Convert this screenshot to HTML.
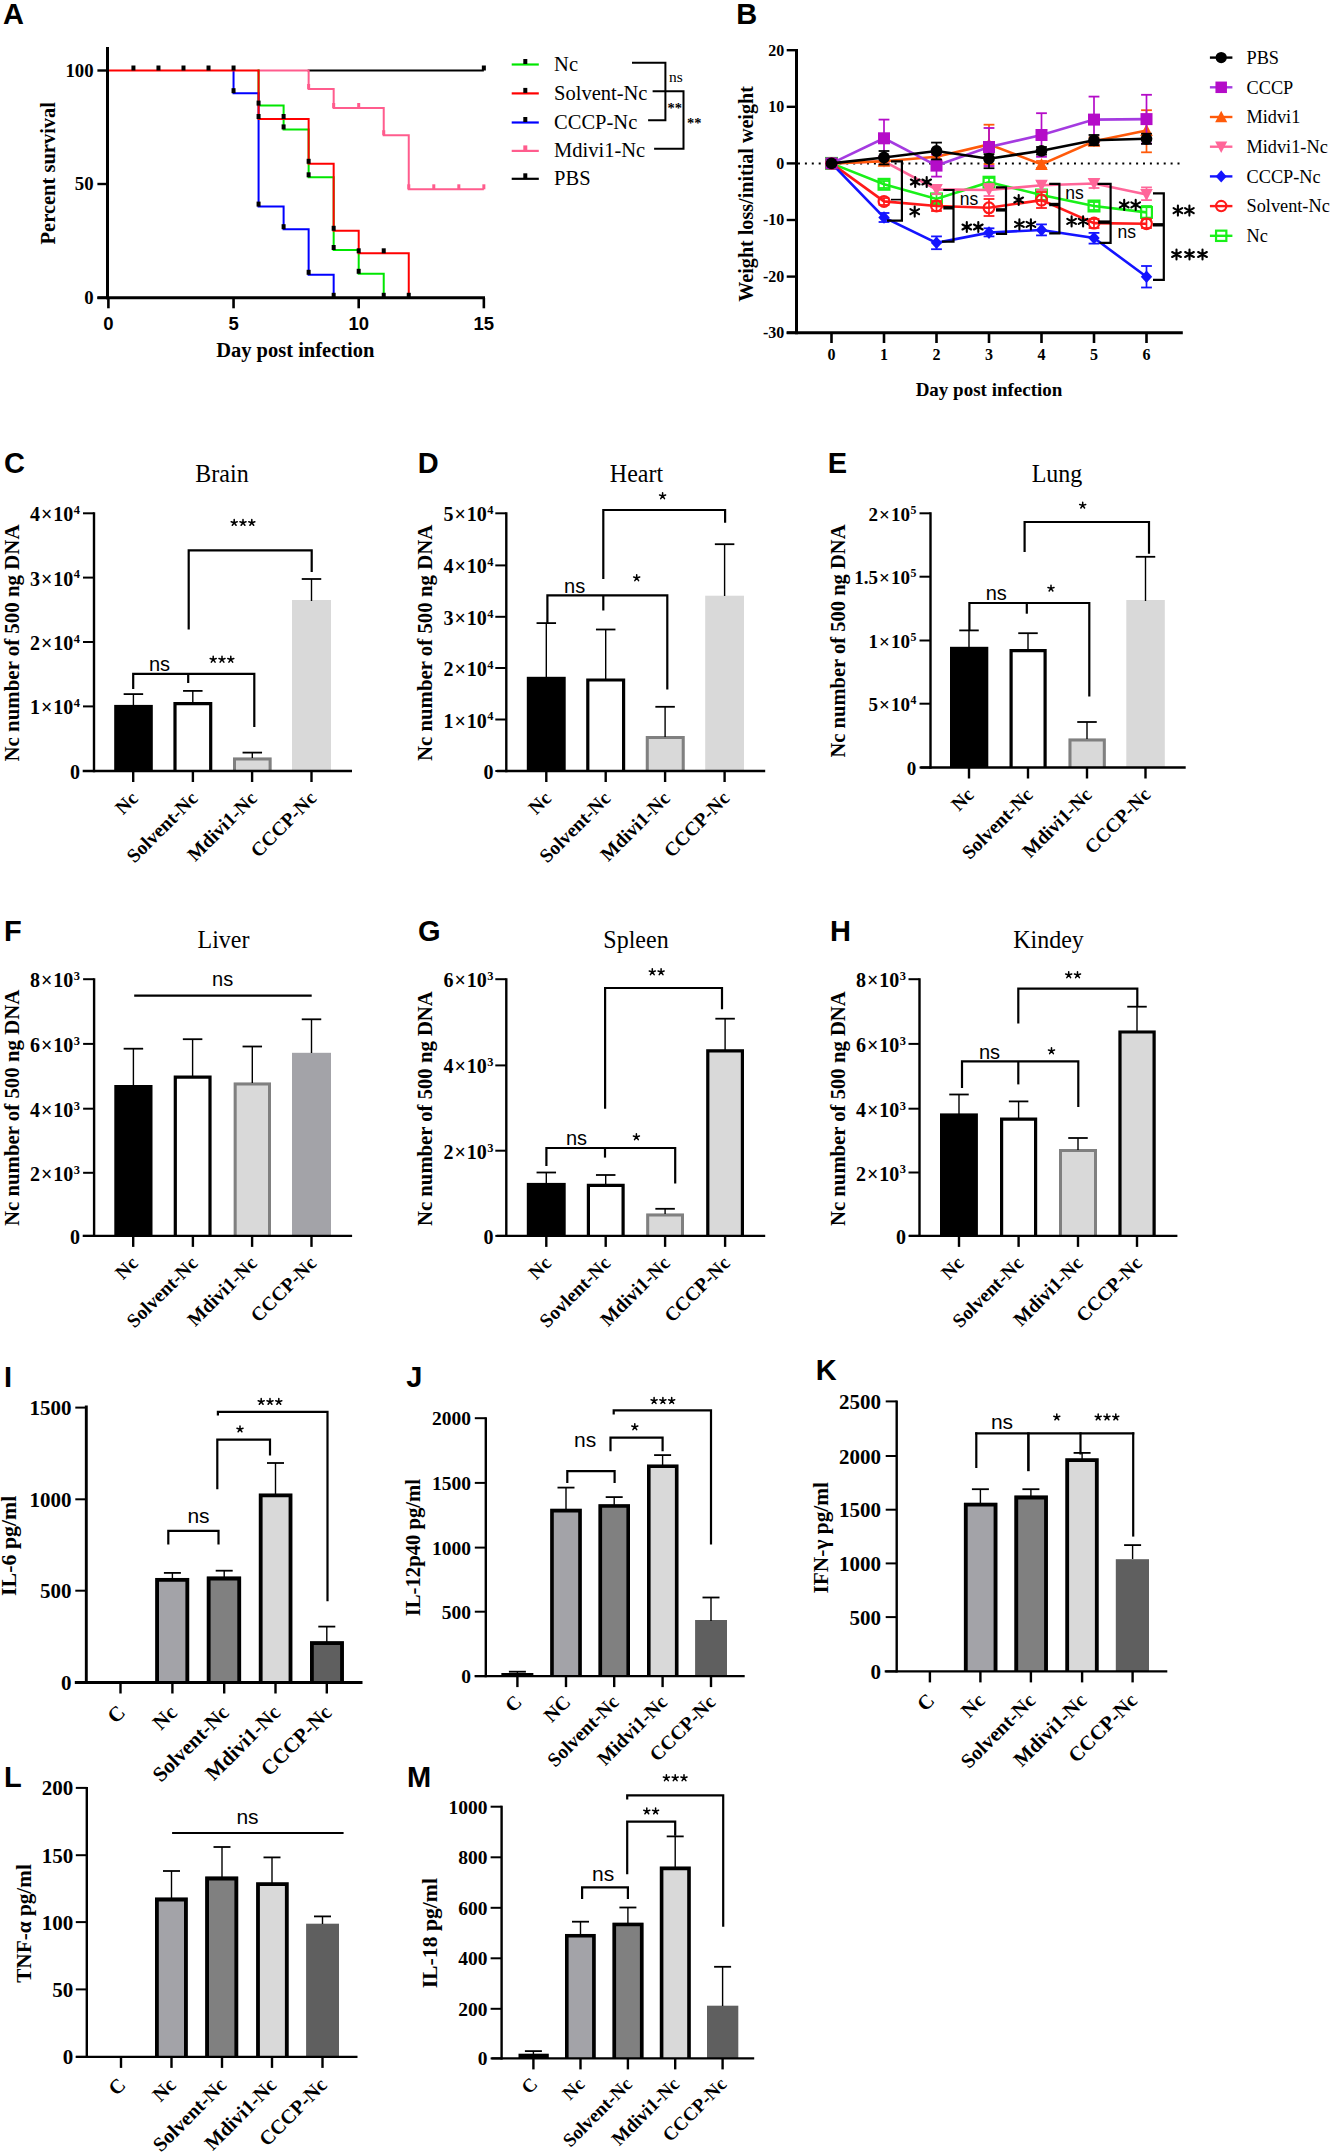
<!DOCTYPE html><html><head><meta charset="utf-8"><style>html,body{margin:0;padding:0;background:#fff;}svg{display:block;}</style></head><body>
<svg width="1330" height="2154" viewBox="0 0 1330 2154">
<rect width="1330" height="2154" fill="#fff"/>
<text x="3.1" y="23.6" font-family='"Liberation Sans", sans-serif' font-size="29" font-weight="bold" text-anchor="start" fill="#000">A</text>
<polyline points="307.64,70.5 483.85,70.5" fill="none" stroke="#000" stroke-width="2" stroke-linejoin="miter" stroke-linecap="butt"/>
<polyline points="257.58,70.5 308.64,70.5 308.64,89 333.67,89 333.67,108 383.73,108 383.73,135.2 408.76,135.2 408.76,189.3 483.85,189.3" fill="none" stroke="#ff5c8d" stroke-width="2" stroke-linejoin="miter" stroke-linecap="butt"/>
<polyline points="257.58,70.5 258.58,70.5 258.58,105.6 283.61,105.6 283.61,129.4 308.64,129.4 308.64,177.3 333.67,177.3 333.67,250 358.7,250 358.7,273.8 383.73,273.8 383.73,297.8" fill="none" stroke="#00e600" stroke-width="2" stroke-linejoin="miter" stroke-linecap="butt"/>
<polyline points="232.55,70.5 233.55,70.5 233.55,93.2 258.58,93.2 258.58,206.6 283.61,206.6 283.61,229.2 308.64,229.2 308.64,274.8 333.67,274.8 333.67,297.8" fill="none" stroke="#0000ff" stroke-width="2" stroke-linejoin="miter" stroke-linecap="butt"/>
<polyline points="108.4,70.5 258.58,70.5 258.58,119 308.64,119 308.64,163.8 333.67,163.8 333.67,230.8 358.7,230.8 358.7,253.3 408.76,253.3 408.76,297.8" fill="none" stroke="#ff0000" stroke-width="2" stroke-linejoin="miter" stroke-linecap="butt"/>
<rect x="131.43" y="65.5" width="4" height="5" fill="#000"/>
<rect x="156.46" y="65.5" width="4" height="5" fill="#000"/>
<rect x="181.49" y="65.5" width="4" height="5" fill="#000"/>
<rect x="206.52" y="65.5" width="4" height="5" fill="#000"/>
<rect x="231.55" y="65.5" width="4" height="5" fill="#000"/>
<rect x="231.55" y="88.2" width="4" height="5" fill="#000"/>
<rect x="256.58" y="100.6" width="4" height="5" fill="#000"/>
<rect x="256.58" y="114" width="4" height="5" fill="#000"/>
<rect x="281.61" y="114" width="4" height="5" fill="#000"/>
<rect x="281.61" y="124.4" width="4" height="5" fill="#000"/>
<rect x="256.58" y="201.6" width="4" height="5" fill="#000"/>
<rect x="281.61" y="224.2" width="4" height="5" fill="#000"/>
<rect x="306.64" y="158.8" width="4" height="5" fill="#000"/>
<rect x="306.64" y="172.3" width="4" height="5" fill="#000"/>
<rect x="306.64" y="269.8" width="4" height="5" fill="#000"/>
<rect x="331.67" y="225.8" width="4" height="5" fill="#000"/>
<rect x="331.67" y="245" width="4" height="5" fill="#000"/>
<rect x="331.67" y="292.8" width="4" height="5" fill="#000"/>
<rect x="356.7" y="248.3" width="4" height="5" fill="#000"/>
<rect x="356.7" y="268.8" width="4" height="5" fill="#000"/>
<rect x="381.73" y="248.3" width="4" height="5" fill="#000"/>
<rect x="381.73" y="292.8" width="4" height="5" fill="#000"/>
<rect x="406.76" y="292.8" width="4" height="5" fill="#000"/>
<rect x="481.85" y="65.5" width="4" height="5" fill="#000"/>
<rect x="307.14" y="84" width="3" height="5" fill="#ff5c8d"/>
<rect x="332.17" y="103" width="3" height="5" fill="#ff5c8d"/>
<rect x="357.2" y="103" width="3" height="5" fill="#ff5c8d"/>
<rect x="382.23" y="130.2" width="3" height="5" fill="#ff5c8d"/>
<rect x="407.26" y="184.3" width="3" height="5" fill="#ff5c8d"/>
<rect x="432.29" y="184.3" width="3" height="5" fill="#ff5c8d"/>
<rect x="457.32" y="184.3" width="3" height="5" fill="#ff5c8d"/>
<rect x="482.35" y="184.3" width="3" height="5" fill="#ff5c8d"/>
<line x1="107.5" y1="47" x2="107.5" y2="299.3" stroke="#000" stroke-width="3"/>
<line x1="97.4" y1="297.8" x2="485" y2="297.8" stroke="#000" stroke-width="3"/>
<line x1="97.4" y1="70.5" x2="107.5" y2="70.5" stroke="#000" stroke-width="2.4"/>
<line x1="97.4" y1="184" x2="107.5" y2="184" stroke="#000" stroke-width="2.4"/>
<line x1="97.4" y1="297.8" x2="107.5" y2="297.8" stroke="#000" stroke-width="2.4"/>
<line x1="108.4" y1="297.8" x2="108.4" y2="308.3" stroke="#000" stroke-width="2.6"/>
<text x="108.4" y="329.8" font-family='"Liberation Sans", sans-serif' font-size="18.5" font-weight="bold" text-anchor="middle" fill="#000">0</text>
<line x1="233.55" y1="297.8" x2="233.55" y2="308.3" stroke="#000" stroke-width="2.6"/>
<text x="233.55" y="329.8" font-family='"Liberation Sans", sans-serif' font-size="18.5" font-weight="bold" text-anchor="middle" fill="#000">5</text>
<line x1="358.7" y1="297.8" x2="358.7" y2="308.3" stroke="#000" stroke-width="2.6"/>
<text x="358.7" y="329.8" font-family='"Liberation Sans", sans-serif' font-size="18.5" font-weight="bold" text-anchor="middle" fill="#000">10</text>
<line x1="483.85" y1="297.8" x2="483.85" y2="308.3" stroke="#000" stroke-width="2.6"/>
<text x="483.85" y="329.8" font-family='"Liberation Sans", sans-serif' font-size="18.5" font-weight="bold" text-anchor="middle" fill="#000">15</text>
<text x="93.6" y="76.9" font-family='"Liberation Serif", serif' font-size="18.8" font-weight="bold" text-anchor="end" fill="#000">100</text>
<text x="93.6" y="190.4" font-family='"Liberation Serif", serif' font-size="18.8" font-weight="bold" text-anchor="end" fill="#000">50</text>
<text x="93.6" y="304.2" font-family='"Liberation Serif", serif' font-size="18.8" font-weight="bold" text-anchor="end" fill="#000">0</text>
<text x="295.3" y="356.8" font-family='"Liberation Serif", serif' font-size="20.5" font-weight="bold" text-anchor="middle" fill="#000">Day post infection</text>
<text transform="translate(54.8,173.2) rotate(-90)" x="0" y="0" font-family='"Liberation Serif", serif' font-size="20.5" font-weight="bold" text-anchor="middle">Percent survival</text>
<line x1="511.7" y1="64.5" x2="538.8" y2="64.5" stroke="#00e600" stroke-width="2.2"/>
<rect x="523.3" y="59" width="4" height="5" fill="#000"/>
<text x="554.1" y="70.8" font-family='"Liberation Serif", serif' font-size="20.5" font-weight="normal" text-anchor="start" fill="#000">Nc</text>
<line x1="511.7" y1="93.4" x2="538.8" y2="93.4" stroke="#ff0000" stroke-width="2.2"/>
<rect x="523.3" y="87.9" width="4" height="5" fill="#000"/>
<text x="554.1" y="99.7" font-family='"Liberation Serif", serif' font-size="20.5" font-weight="normal" text-anchor="start" fill="#000">Solvent-Nc</text>
<line x1="511.7" y1="122.5" x2="538.8" y2="122.5" stroke="#0000ff" stroke-width="2.2"/>
<rect x="523.3" y="117" width="4" height="5" fill="#000"/>
<text x="554.1" y="128.8" font-family='"Liberation Serif", serif' font-size="20.5" font-weight="normal" text-anchor="start" fill="#000">CCCP-Nc</text>
<line x1="511.7" y1="150.9" x2="538.8" y2="150.9" stroke="#ff5c8d" stroke-width="2.2"/>
<rect x="523.3" y="145.4" width="4" height="5" fill="#ff5c8d"/>
<text x="554.1" y="157.2" font-family='"Liberation Serif", serif' font-size="20.5" font-weight="normal" text-anchor="start" fill="#000">Mdivi1-Nc</text>
<line x1="511.7" y1="178.8" x2="538.8" y2="178.8" stroke="#000" stroke-width="2.2"/>
<rect x="523.3" y="173.3" width="4" height="5" fill="#000"/>
<text x="554.1" y="185.1" font-family='"Liberation Serif", serif' font-size="20.5" font-weight="normal" text-anchor="start" fill="#000">PBS</text>
<polyline points="632,62.7 665.4,62.7 665.4,120.2 648.1,120.2" fill="none" stroke="#000" stroke-width="2" stroke-linejoin="miter" stroke-linecap="butt"/>
<polyline points="652.6,91.3 683.5,91.3 683.5,148.8 654.1,148.8" fill="none" stroke="#000" stroke-width="2" stroke-linejoin="miter" stroke-linecap="butt"/>
<text x="669" y="81.5" font-family='"Liberation Serif", serif' font-size="15.5" font-weight="normal" text-anchor="start" fill="#000">ns</text>
<text x="667.5" y="112.5" font-family='"Liberation Serif", serif' font-size="14.5" font-weight="bold" text-anchor="start" fill="#000">**</text>
<text x="687" y="127.5" font-family='"Liberation Serif", serif' font-size="14.5" font-weight="bold" text-anchor="start" fill="#000">**</text>
<text x="736.2" y="23.6" font-family='"Liberation Sans", sans-serif' font-size="29" font-weight="bold" text-anchor="start" fill="#000">B</text>
<line x1="798" y1="163.4" x2="1182" y2="163.4" stroke="#000" stroke-width="2" stroke-dasharray="2 4.9"/>
<line x1="884" y1="181" x2="884" y2="188" stroke="#19f019" stroke-width="1.7"/>
<line x1="878.6" y1="181" x2="889.4" y2="181" stroke="#19f019" stroke-width="1.8"/>
<line x1="878.6" y1="188" x2="889.4" y2="188" stroke="#19f019" stroke-width="1.8"/>
<line x1="936.5" y1="194" x2="936.5" y2="203" stroke="#19f019" stroke-width="1.7"/>
<line x1="931.1" y1="194" x2="941.9" y2="194" stroke="#19f019" stroke-width="1.8"/>
<line x1="931.1" y1="203" x2="941.9" y2="203" stroke="#19f019" stroke-width="1.8"/>
<line x1="989" y1="178" x2="989" y2="186" stroke="#19f019" stroke-width="1.7"/>
<line x1="983.6" y1="178" x2="994.4" y2="178" stroke="#19f019" stroke-width="1.8"/>
<line x1="983.6" y1="186" x2="994.4" y2="186" stroke="#19f019" stroke-width="1.8"/>
<line x1="1041.5" y1="190" x2="1041.5" y2="200" stroke="#19f019" stroke-width="1.7"/>
<line x1="1036.1" y1="190" x2="1046.9" y2="190" stroke="#19f019" stroke-width="1.8"/>
<line x1="1036.1" y1="200" x2="1046.9" y2="200" stroke="#19f019" stroke-width="1.8"/>
<line x1="1094" y1="202" x2="1094" y2="210" stroke="#19f019" stroke-width="1.7"/>
<line x1="1088.6" y1="202" x2="1099.4" y2="202" stroke="#19f019" stroke-width="1.8"/>
<line x1="1088.6" y1="210" x2="1099.4" y2="210" stroke="#19f019" stroke-width="1.8"/>
<line x1="1146.5" y1="206" x2="1146.5" y2="218" stroke="#19f019" stroke-width="1.7"/>
<line x1="1141.1" y1="206" x2="1151.9" y2="206" stroke="#19f019" stroke-width="1.8"/>
<line x1="1141.1" y1="218" x2="1151.9" y2="218" stroke="#19f019" stroke-width="1.8"/>
<polyline points="831.5,163.4 884,184.3 936.5,198.9 989,182.2 1041.5,195 1094,206 1146.5,212.4" fill="none" stroke="#19f019" stroke-width="2.6" stroke-linejoin="miter" stroke-linecap="butt"/>
<rect x="826.1" y="158" width="10.8" height="10.8" fill="none" stroke="#19f019" stroke-width="2.2"/>
<rect x="878.6" y="178.9" width="10.8" height="10.8" fill="none" stroke="#19f019" stroke-width="2.2"/>
<rect x="931.1" y="193.5" width="10.8" height="10.8" fill="none" stroke="#19f019" stroke-width="2.2"/>
<rect x="983.6" y="176.8" width="10.8" height="10.8" fill="none" stroke="#19f019" stroke-width="2.2"/>
<rect x="1036.1" y="189.6" width="10.8" height="10.8" fill="none" stroke="#19f019" stroke-width="2.2"/>
<rect x="1088.6" y="200.6" width="10.8" height="10.8" fill="none" stroke="#19f019" stroke-width="2.2"/>
<rect x="1141.1" y="207" width="10.8" height="10.8" fill="none" stroke="#19f019" stroke-width="2.2"/>
<line x1="884" y1="198" x2="884" y2="205" stroke="#ff1a1a" stroke-width="1.7"/>
<line x1="878.6" y1="198" x2="889.4" y2="198" stroke="#ff1a1a" stroke-width="1.8"/>
<line x1="878.6" y1="205" x2="889.4" y2="205" stroke="#ff1a1a" stroke-width="1.8"/>
<line x1="936.5" y1="201" x2="936.5" y2="211" stroke="#ff1a1a" stroke-width="1.7"/>
<line x1="931.1" y1="201" x2="941.9" y2="201" stroke="#ff1a1a" stroke-width="1.8"/>
<line x1="931.1" y1="211" x2="941.9" y2="211" stroke="#ff1a1a" stroke-width="1.8"/>
<line x1="989" y1="199" x2="989" y2="216" stroke="#ff1a1a" stroke-width="1.7"/>
<line x1="983.6" y1="199" x2="994.4" y2="199" stroke="#ff1a1a" stroke-width="1.8"/>
<line x1="983.6" y1="216" x2="994.4" y2="216" stroke="#ff1a1a" stroke-width="1.8"/>
<line x1="1041.5" y1="192" x2="1041.5" y2="208" stroke="#ff1a1a" stroke-width="1.7"/>
<line x1="1036.1" y1="192" x2="1046.9" y2="192" stroke="#ff1a1a" stroke-width="1.8"/>
<line x1="1036.1" y1="208" x2="1046.9" y2="208" stroke="#ff1a1a" stroke-width="1.8"/>
<line x1="1094" y1="219" x2="1094" y2="228" stroke="#ff1a1a" stroke-width="1.7"/>
<line x1="1088.6" y1="219" x2="1099.4" y2="219" stroke="#ff1a1a" stroke-width="1.8"/>
<line x1="1088.6" y1="228" x2="1099.4" y2="228" stroke="#ff1a1a" stroke-width="1.8"/>
<line x1="1146.5" y1="219" x2="1146.5" y2="228" stroke="#ff1a1a" stroke-width="1.7"/>
<line x1="1141.1" y1="219" x2="1151.9" y2="219" stroke="#ff1a1a" stroke-width="1.8"/>
<line x1="1141.1" y1="228" x2="1151.9" y2="228" stroke="#ff1a1a" stroke-width="1.8"/>
<polyline points="831.5,163.4 884,201.4 936.5,206 989,207.8 1041.5,200.1 1094,223.1 1146.5,223.7" fill="none" stroke="#ff1a1a" stroke-width="2.6" stroke-linejoin="miter" stroke-linecap="butt"/>
<circle cx="831.5" cy="163.4" r="5.4" fill="none" stroke="#ff1a1a" stroke-width="2.2"/>
<circle cx="884" cy="201.4" r="5.4" fill="none" stroke="#ff1a1a" stroke-width="2.2"/>
<circle cx="936.5" cy="206" r="5.4" fill="none" stroke="#ff1a1a" stroke-width="2.2"/>
<circle cx="989" cy="207.8" r="5.4" fill="none" stroke="#ff1a1a" stroke-width="2.2"/>
<circle cx="1041.5" cy="200.1" r="5.4" fill="none" stroke="#ff1a1a" stroke-width="2.2"/>
<circle cx="1094" cy="223.1" r="5.4" fill="none" stroke="#ff1a1a" stroke-width="2.2"/>
<circle cx="1146.5" cy="223.7" r="5.4" fill="none" stroke="#ff1a1a" stroke-width="2.2"/>
<line x1="884" y1="213" x2="884" y2="222" stroke="#1414ff" stroke-width="1.7"/>
<line x1="878.6" y1="213" x2="889.4" y2="213" stroke="#1414ff" stroke-width="1.8"/>
<line x1="878.6" y1="222" x2="889.4" y2="222" stroke="#1414ff" stroke-width="1.8"/>
<line x1="936.5" y1="236.4" x2="936.5" y2="249.2" stroke="#1414ff" stroke-width="1.7"/>
<line x1="931.1" y1="236.4" x2="941.9" y2="236.4" stroke="#1414ff" stroke-width="1.8"/>
<line x1="931.1" y1="249.2" x2="941.9" y2="249.2" stroke="#1414ff" stroke-width="1.8"/>
<line x1="989" y1="228.3" x2="989" y2="236.4" stroke="#1414ff" stroke-width="1.7"/>
<line x1="983.6" y1="228.3" x2="994.4" y2="228.3" stroke="#1414ff" stroke-width="1.8"/>
<line x1="983.6" y1="236.4" x2="994.4" y2="236.4" stroke="#1414ff" stroke-width="1.8"/>
<line x1="1041.5" y1="224.4" x2="1041.5" y2="235.4" stroke="#1414ff" stroke-width="1.7"/>
<line x1="1036.1" y1="224.4" x2="1046.9" y2="224.4" stroke="#1414ff" stroke-width="1.8"/>
<line x1="1036.1" y1="235.4" x2="1046.9" y2="235.4" stroke="#1414ff" stroke-width="1.8"/>
<line x1="1094" y1="232.9" x2="1094" y2="243.6" stroke="#1414ff" stroke-width="1.7"/>
<line x1="1088.6" y1="232.9" x2="1099.4" y2="232.9" stroke="#1414ff" stroke-width="1.8"/>
<line x1="1088.6" y1="243.6" x2="1099.4" y2="243.6" stroke="#1414ff" stroke-width="1.8"/>
<line x1="1146.5" y1="266" x2="1146.5" y2="287.5" stroke="#1414ff" stroke-width="1.7"/>
<line x1="1141.1" y1="266" x2="1151.9" y2="266" stroke="#1414ff" stroke-width="1.8"/>
<line x1="1141.1" y1="287.5" x2="1151.9" y2="287.5" stroke="#1414ff" stroke-width="1.8"/>
<polyline points="831.5,163.4 884,217.5 936.5,242.8 989,232.6 1041.5,230 1094,238 1146.5,276.8" fill="none" stroke="#1414ff" stroke-width="2.6" stroke-linejoin="miter" stroke-linecap="butt"/>
<path d="M831.5 157.1L837.2 163.4L831.5 169.7L825.8 163.4Z" fill="#1414ff"/>
<path d="M884 211.2L889.7 217.5L884 223.8L878.3 217.5Z" fill="#1414ff"/>
<path d="M936.5 236.5L942.2 242.8L936.5 249.1L930.8 242.8Z" fill="#1414ff"/>
<path d="M989 226.3L994.7 232.6L989 238.9L983.3 232.6Z" fill="#1414ff"/>
<path d="M1041.5 223.7L1047.2 230L1041.5 236.3L1035.8 230Z" fill="#1414ff"/>
<path d="M1094 231.7L1099.7 238L1094 244.3L1088.3 238Z" fill="#1414ff"/>
<path d="M1146.5 270.5L1152.2 276.8L1146.5 283.1L1140.8 276.8Z" fill="#1414ff"/>
<line x1="884" y1="158" x2="884" y2="165" stroke="#ff6699" stroke-width="1.7"/>
<line x1="878.6" y1="158" x2="889.4" y2="158" stroke="#ff6699" stroke-width="1.8"/>
<line x1="878.6" y1="165" x2="889.4" y2="165" stroke="#ff6699" stroke-width="1.8"/>
<line x1="936.5" y1="185" x2="936.5" y2="194" stroke="#ff6699" stroke-width="1.7"/>
<line x1="931.1" y1="185" x2="941.9" y2="185" stroke="#ff6699" stroke-width="1.8"/>
<line x1="931.1" y1="194" x2="941.9" y2="194" stroke="#ff6699" stroke-width="1.8"/>
<line x1="989" y1="184" x2="989" y2="196" stroke="#ff6699" stroke-width="1.7"/>
<line x1="983.6" y1="184" x2="994.4" y2="184" stroke="#ff6699" stroke-width="1.8"/>
<line x1="983.6" y1="196" x2="994.4" y2="196" stroke="#ff6699" stroke-width="1.8"/>
<line x1="1041.5" y1="181" x2="1041.5" y2="190" stroke="#ff6699" stroke-width="1.7"/>
<line x1="1036.1" y1="181" x2="1046.9" y2="181" stroke="#ff6699" stroke-width="1.8"/>
<line x1="1036.1" y1="190" x2="1046.9" y2="190" stroke="#ff6699" stroke-width="1.8"/>
<line x1="1094" y1="179" x2="1094" y2="188" stroke="#ff6699" stroke-width="1.7"/>
<line x1="1088.6" y1="179" x2="1099.4" y2="179" stroke="#ff6699" stroke-width="1.8"/>
<line x1="1088.6" y1="188" x2="1099.4" y2="188" stroke="#ff6699" stroke-width="1.8"/>
<line x1="1146.5" y1="187.4" x2="1146.5" y2="200.1" stroke="#ff6699" stroke-width="1.7"/>
<line x1="1141.1" y1="187.4" x2="1151.9" y2="187.4" stroke="#ff6699" stroke-width="1.8"/>
<line x1="1141.1" y1="200.1" x2="1151.9" y2="200.1" stroke="#ff6699" stroke-width="1.8"/>
<polyline points="831.5,163.4 884,161.3 936.5,189.4 989,190 1041.5,185.3 1094,183.5 1146.5,194.5" fill="none" stroke="#ff6699" stroke-width="2.6" stroke-linejoin="miter" stroke-linecap="butt"/>
<path d="M831.5 169.9L837.8 157.9L825.2 157.9Z" fill="#ff6699"/>
<path d="M884 167.8L890.3 155.8L877.7 155.8Z" fill="#ff6699"/>
<path d="M936.5 195.9L942.8 183.9L930.2 183.9Z" fill="#ff6699"/>
<path d="M989 196.5L995.3 184.5L982.7 184.5Z" fill="#ff6699"/>
<path d="M1041.5 191.8L1047.8 179.8L1035.2 179.8Z" fill="#ff6699"/>
<path d="M1094 190L1100.3 178L1087.7 178Z" fill="#ff6699"/>
<path d="M1146.5 201L1152.8 189L1140.2 189Z" fill="#ff6699"/>
<line x1="884" y1="158" x2="884" y2="165" stroke="#ff5a0a" stroke-width="1.7"/>
<line x1="878.6" y1="158" x2="889.4" y2="158" stroke="#ff5a0a" stroke-width="1.8"/>
<line x1="878.6" y1="165" x2="889.4" y2="165" stroke="#ff5a0a" stroke-width="1.8"/>
<line x1="936.5" y1="153" x2="936.5" y2="160" stroke="#ff5a0a" stroke-width="1.7"/>
<line x1="931.1" y1="153" x2="941.9" y2="153" stroke="#ff5a0a" stroke-width="1.8"/>
<line x1="931.1" y1="160" x2="941.9" y2="160" stroke="#ff5a0a" stroke-width="1.8"/>
<line x1="989" y1="124.7" x2="989" y2="164" stroke="#ff5a0a" stroke-width="1.7"/>
<line x1="983.6" y1="124.7" x2="994.4" y2="124.7" stroke="#ff5a0a" stroke-width="1.8"/>
<line x1="983.6" y1="164" x2="994.4" y2="164" stroke="#ff5a0a" stroke-width="1.8"/>
<line x1="1041.5" y1="161" x2="1041.5" y2="168" stroke="#ff5a0a" stroke-width="1.7"/>
<line x1="1036.1" y1="161" x2="1046.9" y2="161" stroke="#ff5a0a" stroke-width="1.8"/>
<line x1="1036.1" y1="168" x2="1046.9" y2="168" stroke="#ff5a0a" stroke-width="1.8"/>
<line x1="1094" y1="137.5" x2="1094" y2="145" stroke="#ff5a0a" stroke-width="1.7"/>
<line x1="1088.6" y1="137.5" x2="1099.4" y2="137.5" stroke="#ff5a0a" stroke-width="1.8"/>
<line x1="1088.6" y1="145" x2="1099.4" y2="145" stroke="#ff5a0a" stroke-width="1.8"/>
<line x1="1146.5" y1="110.2" x2="1146.5" y2="152.3" stroke="#ff5a0a" stroke-width="1.7"/>
<line x1="1141.1" y1="110.2" x2="1151.9" y2="110.2" stroke="#ff5a0a" stroke-width="1.8"/>
<line x1="1141.1" y1="152.3" x2="1151.9" y2="152.3" stroke="#ff5a0a" stroke-width="1.8"/>
<polyline points="831.5,163.4 884,161.3 936.5,156.7 989,144.4 1041.5,164.4 1094,141.3 1146.5,130.6" fill="none" stroke="#ff5a0a" stroke-width="2.6" stroke-linejoin="miter" stroke-linecap="butt"/>
<path d="M831.5 156.9L837.8 168.9L825.2 168.9Z" fill="#ff5a0a"/>
<path d="M884 154.8L890.3 166.8L877.7 166.8Z" fill="#ff5a0a"/>
<path d="M936.5 150.2L942.8 162.2L930.2 162.2Z" fill="#ff5a0a"/>
<path d="M989 137.9L995.3 149.9L982.7 149.9Z" fill="#ff5a0a"/>
<path d="M1041.5 157.9L1047.8 169.9L1035.2 169.9Z" fill="#ff5a0a"/>
<path d="M1094 134.8L1100.3 146.8L1087.7 146.8Z" fill="#ff5a0a"/>
<path d="M1146.5 124.1L1152.8 136.1L1140.2 136.1Z" fill="#ff5a0a"/>
<line x1="884" y1="119.6" x2="884" y2="157" stroke="#b40cc8" stroke-width="1.7"/>
<line x1="878.6" y1="119.6" x2="889.4" y2="119.6" stroke="#b40cc8" stroke-width="1.8"/>
<line x1="878.6" y1="157" x2="889.4" y2="157" stroke="#b40cc8" stroke-width="1.8"/>
<line x1="936.5" y1="154.6" x2="936.5" y2="176.6" stroke="#b40cc8" stroke-width="1.7"/>
<line x1="931.1" y1="154.6" x2="941.9" y2="154.6" stroke="#b40cc8" stroke-width="1.8"/>
<line x1="931.1" y1="176.6" x2="941.9" y2="176.6" stroke="#b40cc8" stroke-width="1.8"/>
<line x1="989" y1="128" x2="989" y2="166" stroke="#b40cc8" stroke-width="1.7"/>
<line x1="983.6" y1="128" x2="994.4" y2="128" stroke="#b40cc8" stroke-width="1.8"/>
<line x1="983.6" y1="166" x2="994.4" y2="166" stroke="#b40cc8" stroke-width="1.8"/>
<line x1="1041.5" y1="113.2" x2="1041.5" y2="156.8" stroke="#b40cc8" stroke-width="1.7"/>
<line x1="1036.1" y1="113.2" x2="1046.9" y2="113.2" stroke="#b40cc8" stroke-width="1.8"/>
<line x1="1036.1" y1="156.8" x2="1046.9" y2="156.8" stroke="#b40cc8" stroke-width="1.8"/>
<line x1="1094" y1="96.6" x2="1094" y2="142.6" stroke="#b40cc8" stroke-width="1.7"/>
<line x1="1088.6" y1="96.6" x2="1099.4" y2="96.6" stroke="#b40cc8" stroke-width="1.8"/>
<line x1="1088.6" y1="142.6" x2="1099.4" y2="142.6" stroke="#b40cc8" stroke-width="1.8"/>
<line x1="1146.5" y1="94.8" x2="1146.5" y2="143.4" stroke="#b40cc8" stroke-width="1.7"/>
<line x1="1141.1" y1="94.8" x2="1151.9" y2="94.8" stroke="#b40cc8" stroke-width="1.8"/>
<line x1="1141.1" y1="143.4" x2="1151.9" y2="143.4" stroke="#b40cc8" stroke-width="1.8"/>
<polyline points="831.5,163.4 884,138.3 936.5,165.6 989,147 1041.5,135 1094,119.6 1146.5,119.1" fill="none" stroke="#a43be0" stroke-width="2.6" stroke-linejoin="miter" stroke-linecap="butt"/>
<rect x="825.5" y="157.4" width="12" height="12" fill="#b40cc8"/>
<rect x="878" y="132.3" width="12" height="12" fill="#b40cc8"/>
<rect x="930.5" y="159.6" width="12" height="12" fill="#b40cc8"/>
<rect x="983" y="141" width="12" height="12" fill="#b40cc8"/>
<rect x="1035.5" y="129" width="12" height="12" fill="#b40cc8"/>
<rect x="1088" y="113.6" width="12" height="12" fill="#b40cc8"/>
<rect x="1140.5" y="113.1" width="12" height="12" fill="#b40cc8"/>
<line x1="884" y1="151" x2="884" y2="164.4" stroke="#000" stroke-width="1.7"/>
<line x1="878.6" y1="151" x2="889.4" y2="151" stroke="#000" stroke-width="1.8"/>
<line x1="878.6" y1="164.4" x2="889.4" y2="164.4" stroke="#000" stroke-width="1.8"/>
<line x1="936.5" y1="142.6" x2="936.5" y2="159.4" stroke="#000" stroke-width="1.7"/>
<line x1="931.1" y1="142.6" x2="941.9" y2="142.6" stroke="#000" stroke-width="1.8"/>
<line x1="931.1" y1="159.4" x2="941.9" y2="159.4" stroke="#000" stroke-width="1.8"/>
<line x1="989" y1="154.1" x2="989" y2="168.2" stroke="#000" stroke-width="1.7"/>
<line x1="983.6" y1="154.1" x2="994.4" y2="154.1" stroke="#000" stroke-width="1.8"/>
<line x1="983.6" y1="168.2" x2="994.4" y2="168.2" stroke="#000" stroke-width="1.8"/>
<line x1="1041.5" y1="147" x2="1041.5" y2="154.6" stroke="#000" stroke-width="1.7"/>
<line x1="1036.1" y1="147" x2="1046.9" y2="147" stroke="#000" stroke-width="1.8"/>
<line x1="1036.1" y1="154.6" x2="1046.9" y2="154.6" stroke="#000" stroke-width="1.8"/>
<line x1="1094" y1="135" x2="1094" y2="145.2" stroke="#000" stroke-width="1.7"/>
<line x1="1088.6" y1="135" x2="1099.4" y2="135" stroke="#000" stroke-width="1.8"/>
<line x1="1088.6" y1="145.2" x2="1099.4" y2="145.2" stroke="#000" stroke-width="1.8"/>
<line x1="1146.5" y1="133.7" x2="1146.5" y2="143.9" stroke="#000" stroke-width="1.7"/>
<line x1="1141.1" y1="133.7" x2="1151.9" y2="133.7" stroke="#000" stroke-width="1.8"/>
<line x1="1141.1" y1="143.9" x2="1151.9" y2="143.9" stroke="#000" stroke-width="1.8"/>
<polyline points="831.5,163.4 884,157.5 936.5,151 989,158.7 1041.5,150.8 1094,140.3 1146.5,138.8" fill="none" stroke="#000" stroke-width="2.6" stroke-linejoin="miter" stroke-linecap="butt"/>
<circle cx="831.5" cy="163.4" r="5.88" fill="#000"/>
<circle cx="884" cy="157.5" r="5.88" fill="#000"/>
<circle cx="936.5" cy="151" r="5.88" fill="#000"/>
<circle cx="989" cy="158.7" r="5.88" fill="#000"/>
<circle cx="1041.5" cy="150.8" r="5.88" fill="#000"/>
<circle cx="1094" cy="140.3" r="5.88" fill="#000"/>
<circle cx="1146.5" cy="138.8" r="5.88" fill="#000"/>
<polyline points="891,161.3 901.9,161.3 901.9,220.6 887,220.6" fill="none" stroke="#000" stroke-width="2.2" stroke-linejoin="miter" stroke-linecap="butt"/>
<line x1="891" y1="199.6" x2="901.9" y2="199.6" stroke="#000" stroke-width="1.6"/>
<polyline points="943.3,190 953.5,190 953.5,241.6 942,241.6" fill="none" stroke="#000" stroke-width="2.2" stroke-linejoin="miter" stroke-linecap="butt"/>
<line x1="943.3" y1="207.8" x2="953.5" y2="207.8" stroke="#000" stroke-width="3.4"/>
<polyline points="996,187.4 1006,187.4 1006,233.9 996,233.9" fill="none" stroke="#000" stroke-width="2.2" stroke-linejoin="miter" stroke-linecap="butt"/>
<line x1="996" y1="209.9" x2="1006" y2="209.9" stroke="#000" stroke-width="3.4"/>
<polyline points="1049.2,183.9 1059.4,183.9 1059.4,233.3 1049.2,233.3" fill="none" stroke="#000" stroke-width="2.2" stroke-linejoin="miter" stroke-linecap="butt"/>
<line x1="1049.2" y1="204.5" x2="1059.4" y2="204.5" stroke="#000" stroke-width="3.4"/>
<polyline points="1097.5,183.9 1110.6,183.9 1110.6,242.8 1099.5,242.8" fill="none" stroke="#000" stroke-width="2.2" stroke-linejoin="miter" stroke-linecap="butt"/>
<line x1="1098.2" y1="222.1" x2="1110.6" y2="222.1" stroke="#000" stroke-width="3.4"/>
<polyline points="1153,193.3 1163.8,193.3 1163.8,279.9 1153,279.9" fill="none" stroke="#000" stroke-width="2.2" stroke-linejoin="miter" stroke-linecap="butt"/>
<line x1="1153" y1="224.8" x2="1163.8" y2="224.8" stroke="#000" stroke-width="3.4"/>
<path d="M915.2 177L915.2 187M910.87 179.5L919.53 184.5M910.87 184.5L919.53 179.5" stroke="#000" stroke-width="2.1" stroke-linecap="round" fill="none"/>
<path d="M926.7 177L926.7 187M922.37 179.5L931.03 184.5M922.37 184.5L931.03 179.5" stroke="#000" stroke-width="2.1" stroke-linecap="round" fill="none"/>
<path d="M914.7 206.6L914.7 216.6M910.37 209.1L919.03 214.1M910.37 214.1L919.03 209.1" stroke="#000" stroke-width="2.1" stroke-linecap="round" fill="none"/>
<text x="969" y="205" font-family='"Liberation Sans", sans-serif' font-size="17.5" font-weight="normal" text-anchor="middle" fill="#000">ns</text>
<path d="M966.8 222L966.8 232M962.47 224.5L971.13 229.5M962.47 229.5L971.13 224.5" stroke="#000" stroke-width="2.1" stroke-linecap="round" fill="none"/>
<path d="M978.3 222L978.3 232M973.97 224.5L982.63 229.5M973.97 229.5L982.63 224.5" stroke="#000" stroke-width="2.1" stroke-linecap="round" fill="none"/>
<path d="M1018.7 195L1018.7 205M1014.37 197.5L1023.03 202.5M1014.37 202.5L1023.03 197.5" stroke="#000" stroke-width="2.1" stroke-linecap="round" fill="none"/>
<path d="M1019.4 219.4L1019.4 229.4M1015.07 221.9L1023.73 226.9M1015.07 226.9L1023.73 221.9" stroke="#000" stroke-width="2.1" stroke-linecap="round" fill="none"/>
<path d="M1030.9 219.4L1030.9 229.4M1026.57 221.9L1035.23 226.9M1026.57 226.9L1035.23 221.9" stroke="#000" stroke-width="2.1" stroke-linecap="round" fill="none"/>
<text x="1074.6" y="199.1" font-family='"Liberation Sans", sans-serif' font-size="17.5" font-weight="normal" text-anchor="middle" fill="#000">ns</text>
<path d="M1071.6 216.4L1071.6 226.4M1067.27 218.9L1075.93 223.9M1067.27 223.9L1075.93 218.9" stroke="#000" stroke-width="2.1" stroke-linecap="round" fill="none"/>
<path d="M1083.1 216.4L1083.1 226.4M1078.77 218.9L1087.43 223.9M1078.77 223.9L1087.43 218.9" stroke="#000" stroke-width="2.1" stroke-linecap="round" fill="none"/>
<path d="M1124.2 199.9L1124.2 209.9M1119.87 202.4L1128.53 207.4M1119.87 207.4L1128.53 202.4" stroke="#000" stroke-width="2.1" stroke-linecap="round" fill="none"/>
<path d="M1135.7 199.9L1135.7 209.9M1131.37 202.4L1140.03 207.4M1131.37 207.4L1140.03 202.4" stroke="#000" stroke-width="2.1" stroke-linecap="round" fill="none"/>
<text x="1126.8" y="237.7" font-family='"Liberation Sans", sans-serif' font-size="17.5" font-weight="normal" text-anchor="middle" fill="#000">ns</text>
<path d="M1177.9 205.6L1177.9 215.6M1173.57 208.1L1182.23 213.1M1173.57 213.1L1182.23 208.1" stroke="#000" stroke-width="2.1" stroke-linecap="round" fill="none"/>
<path d="M1189.4 205.6L1189.4 215.6M1185.07 208.1L1193.73 213.1M1185.07 213.1L1193.73 208.1" stroke="#000" stroke-width="2.1" stroke-linecap="round" fill="none"/>
<path d="M1176.5 249.5L1176.5 259.5M1172.17 252L1180.83 257M1172.17 257L1180.83 252" stroke="#000" stroke-width="2.1" stroke-linecap="round" fill="none"/>
<path d="M1189.5 249.5L1189.5 259.5M1185.17 252L1193.83 257M1185.17 257L1193.83 252" stroke="#000" stroke-width="2.1" stroke-linecap="round" fill="none"/>
<path d="M1202.5 249.5L1202.5 259.5M1198.17 252L1206.83 257M1198.17 257L1206.83 252" stroke="#000" stroke-width="2.1" stroke-linecap="round" fill="none"/>
<line x1="796.5" y1="49" x2="796.5" y2="334.2" stroke="#000" stroke-width="3"/>
<line x1="786.7" y1="332.8" x2="1182.8" y2="332.8" stroke="#000" stroke-width="3"/>
<line x1="786.7" y1="50.2" x2="796.5" y2="50.2" stroke="#000" stroke-width="2.4"/>
<text x="784.3" y="55.6" font-family='"Liberation Serif", serif' font-size="16" font-weight="bold" text-anchor="end" fill="#000">20</text>
<line x1="786.7" y1="106.8" x2="796.5" y2="106.8" stroke="#000" stroke-width="2.4"/>
<text x="784.3" y="112.2" font-family='"Liberation Serif", serif' font-size="16" font-weight="bold" text-anchor="end" fill="#000">10</text>
<line x1="786.7" y1="163.4" x2="796.5" y2="163.4" stroke="#000" stroke-width="2.4"/>
<text x="784.3" y="168.8" font-family='"Liberation Serif", serif' font-size="16" font-weight="bold" text-anchor="end" fill="#000">0</text>
<line x1="786.7" y1="220" x2="796.5" y2="220" stroke="#000" stroke-width="2.4"/>
<text x="784.3" y="225.4" font-family='"Liberation Serif", serif' font-size="16" font-weight="bold" text-anchor="end" fill="#000">-10</text>
<line x1="786.7" y1="276.6" x2="796.5" y2="276.6" stroke="#000" stroke-width="2.4"/>
<text x="784.3" y="282" font-family='"Liberation Serif", serif' font-size="16" font-weight="bold" text-anchor="end" fill="#000">-20</text>
<line x1="786.7" y1="332.8" x2="796.5" y2="332.8" stroke="#000" stroke-width="2.4"/>
<text x="784.3" y="338.2" font-family='"Liberation Serif", serif' font-size="16" font-weight="bold" text-anchor="end" fill="#000">-30</text>
<line x1="831.5" y1="332.8" x2="831.5" y2="343" stroke="#000" stroke-width="2.6"/>
<text x="831.5" y="360.3" font-family='"Liberation Serif", serif' font-size="16" font-weight="bold" text-anchor="middle" fill="#000">0</text>
<line x1="884" y1="332.8" x2="884" y2="343" stroke="#000" stroke-width="2.6"/>
<text x="884" y="360.3" font-family='"Liberation Serif", serif' font-size="16" font-weight="bold" text-anchor="middle" fill="#000">1</text>
<line x1="936.5" y1="332.8" x2="936.5" y2="343" stroke="#000" stroke-width="2.6"/>
<text x="936.5" y="360.3" font-family='"Liberation Serif", serif' font-size="16" font-weight="bold" text-anchor="middle" fill="#000">2</text>
<line x1="989" y1="332.8" x2="989" y2="343" stroke="#000" stroke-width="2.6"/>
<text x="989" y="360.3" font-family='"Liberation Serif", serif' font-size="16" font-weight="bold" text-anchor="middle" fill="#000">3</text>
<line x1="1041.5" y1="332.8" x2="1041.5" y2="343" stroke="#000" stroke-width="2.6"/>
<text x="1041.5" y="360.3" font-family='"Liberation Serif", serif' font-size="16" font-weight="bold" text-anchor="middle" fill="#000">4</text>
<line x1="1094" y1="332.8" x2="1094" y2="343" stroke="#000" stroke-width="2.6"/>
<text x="1094" y="360.3" font-family='"Liberation Serif", serif' font-size="16" font-weight="bold" text-anchor="middle" fill="#000">5</text>
<line x1="1146.5" y1="332.8" x2="1146.5" y2="343" stroke="#000" stroke-width="2.6"/>
<text x="1146.5" y="360.3" font-family='"Liberation Serif", serif' font-size="16" font-weight="bold" text-anchor="middle" fill="#000">6</text>
<text x="989" y="396" font-family='"Liberation Serif", serif' font-size="19" font-weight="bold" text-anchor="middle" fill="#000">Day post infection</text>
<text transform="translate(752.6,193.9) rotate(-90)" x="0" y="0" font-family='"Liberation Serif", serif' font-size="20.1" font-weight="bold" text-anchor="middle">Weight loss/initial weight</text>
<line x1="1209.9" y1="57.6" x2="1232.4" y2="57.6" stroke="#000" stroke-width="2.4"/>
<circle cx="1221.2" cy="57.6" r="5.63" fill="#000"/>
<text x="1246.5" y="63.8" font-family='"Liberation Serif", serif' font-size="18.3" font-weight="normal" text-anchor="start" fill="#000">PBS</text>
<line x1="1209.9" y1="87.3" x2="1232.4" y2="87.3" stroke="#a43be0" stroke-width="2.4"/>
<rect x="1215.45" y="81.55" width="11.5" height="11.5" fill="#b40cc8"/>
<text x="1246.5" y="93.5" font-family='"Liberation Serif", serif' font-size="18.3" font-weight="normal" text-anchor="start" fill="#000">CCCP</text>
<line x1="1209.9" y1="117" x2="1232.4" y2="117" stroke="#ff5a0a" stroke-width="2.4"/>
<path d="M1221.2 110.75L1227.25 122.25L1215.15 122.25Z" fill="#ff5a0a"/>
<text x="1246.5" y="123.2" font-family='"Liberation Serif", serif' font-size="18.3" font-weight="normal" text-anchor="start" fill="#000">Midvi1</text>
<line x1="1209.9" y1="146.7" x2="1232.4" y2="146.7" stroke="#ff6699" stroke-width="2.4"/>
<path d="M1221.2 152.95L1227.25 141.45L1215.15 141.45Z" fill="#ff6699"/>
<text x="1246.5" y="152.9" font-family='"Liberation Serif", serif' font-size="18.3" font-weight="normal" text-anchor="start" fill="#000">Midvi1-Nc</text>
<line x1="1209.9" y1="176.4" x2="1232.4" y2="176.4" stroke="#1414ff" stroke-width="2.4"/>
<path d="M1221.2 170.35L1226.65 176.4L1221.2 182.45L1215.75 176.4Z" fill="#1414ff"/>
<text x="1246.5" y="182.6" font-family='"Liberation Serif", serif' font-size="18.3" font-weight="normal" text-anchor="start" fill="#000">CCCP-Nc</text>
<line x1="1209.9" y1="206.1" x2="1232.4" y2="206.1" stroke="#ff1a1a" stroke-width="2.4"/>
<circle cx="1221.2" cy="206.1" r="5.15" fill="none" stroke="#ff1a1a" stroke-width="2.2"/>
<text x="1246.5" y="212.3" font-family='"Liberation Serif", serif' font-size="18.3" font-weight="normal" text-anchor="start" fill="#000">Solvent-Nc</text>
<line x1="1209.9" y1="235.8" x2="1232.4" y2="235.8" stroke="#19f019" stroke-width="2.4"/>
<rect x="1216.05" y="230.65" width="10.3" height="10.3" fill="none" stroke="#19f019" stroke-width="2.2"/>
<text x="1246.5" y="242" font-family='"Liberation Serif", serif' font-size="18.3" font-weight="normal" text-anchor="start" fill="#000">Nc</text>
<rect x="114.2" y="704.9" width="38.6" height="66.1" fill="#000"/>
<rect x="173.4" y="702" width="38.9" height="69" fill="#fff"/>
<path d="M175 771L175 703.6L210.7 703.6L210.7 771" fill="none" stroke="#000" stroke-width="3.2" stroke-linejoin="miter"/>
<rect x="233" y="757.4" width="38.6" height="13.6" fill="#d9d9d9"/>
<path d="M234.5 771L234.5 758.9L270.1 758.9L270.1 771" fill="none" stroke="#808080" stroke-width="3" stroke-linejoin="miter"/>
<rect x="292" y="600" width="39" height="171" fill="#d9d9d9"/>
<line x1="133.4" y1="694.1" x2="133.4" y2="705" stroke="#000" stroke-width="1.4"/>
<line x1="123.65" y1="694.1" x2="143.15" y2="694.1" stroke="#000" stroke-width="1.8"/>
<line x1="192.8" y1="690.9" x2="192.8" y2="703" stroke="#000" stroke-width="1.4"/>
<line x1="183.05" y1="690.9" x2="202.55" y2="690.9" stroke="#000" stroke-width="1.8"/>
<line x1="252.3" y1="752.6" x2="252.3" y2="758" stroke="#000" stroke-width="1.4"/>
<line x1="242.55" y1="752.6" x2="262.05" y2="752.6" stroke="#000" stroke-width="1.8"/>
<line x1="311.5" y1="579" x2="311.5" y2="601" stroke="#000" stroke-width="1.4"/>
<line x1="301.75" y1="579" x2="321.25" y2="579" stroke="#000" stroke-width="1.8"/>
<line x1="94" y1="512.3" x2="94" y2="772.2" stroke="#000" stroke-width="2.4"/>
<line x1="82.7" y1="771" x2="352" y2="771" stroke="#000" stroke-width="2.4"/>
<line x1="83" y1="513.3" x2="94" y2="513.3" stroke="#000" stroke-width="2"/>
<line x1="83" y1="577.6" x2="94" y2="577.6" stroke="#000" stroke-width="2"/>
<line x1="83" y1="642" x2="94" y2="642" stroke="#000" stroke-width="2"/>
<line x1="83" y1="706.4" x2="94" y2="706.4" stroke="#000" stroke-width="2"/>
<line x1="83" y1="771" x2="94" y2="771" stroke="#000" stroke-width="2"/>
<line x1="133.2" y1="771" x2="133.2" y2="782" stroke="#000" stroke-width="2.4"/>
<line x1="192.9" y1="771" x2="192.9" y2="782" stroke="#000" stroke-width="2.4"/>
<line x1="252.1" y1="771" x2="252.1" y2="782" stroke="#000" stroke-width="2.4"/>
<line x1="311.5" y1="771" x2="311.5" y2="782" stroke="#000" stroke-width="2.4"/>
<text x="80" y="521.3" font-family='"Liberation Serif", serif' font-size="20" font-weight="bold" text-anchor="end">4<tspan dx="1">×</tspan><tspan dx="1">10</tspan><tspan dx="0.5" font-size="12.4" dy="-7.2">4</tspan></text>
<text x="80" y="585.6" font-family='"Liberation Serif", serif' font-size="20" font-weight="bold" text-anchor="end">3<tspan dx="1">×</tspan><tspan dx="1">10</tspan><tspan dx="0.5" font-size="12.4" dy="-7.2">4</tspan></text>
<text x="80" y="650" font-family='"Liberation Serif", serif' font-size="20" font-weight="bold" text-anchor="end">2<tspan dx="1">×</tspan><tspan dx="1">10</tspan><tspan dx="0.5" font-size="12.4" dy="-7.2">4</tspan></text>
<text x="80" y="714.4" font-family='"Liberation Serif", serif' font-size="20" font-weight="bold" text-anchor="end">1<tspan dx="1">×</tspan><tspan dx="1">10</tspan><tspan dx="0.5" font-size="12.4" dy="-7.2">4</tspan></text>
<text x="80" y="779" font-family='"Liberation Serif", serif' font-size="20" font-weight="bold" text-anchor="end" fill="#000">0</text>
<text transform="translate(139.2,799.5) rotate(-45)" x="0" y="0" font-family='"Liberation Serif", serif' font-size="19.5" font-weight="bold" text-anchor="end">Nc</text>
<text transform="translate(198.9,799.5) rotate(-45)" x="0" y="0" font-family='"Liberation Serif", serif' font-size="19.5" font-weight="bold" text-anchor="end">Solvent-Nc</text>
<text transform="translate(258.1,799.5) rotate(-45)" x="0" y="0" font-family='"Liberation Serif", serif' font-size="19.5" font-weight="bold" text-anchor="end">Mdivi1-Nc</text>
<text transform="translate(317.5,799.5) rotate(-45)" x="0" y="0" font-family='"Liberation Serif", serif' font-size="19.5" font-weight="bold" text-anchor="end">CCCP-Nc</text>
<polyline points="188.7,629.5 188.7,550.3 311.7,550.3 311.7,572" fill="none" stroke="#000" stroke-width="2.2" stroke-linejoin="miter" stroke-linecap="butt"/>
<path d="M234.2 522.7L234.2 519.5M234.2 522.7L237.24 521.71M234.2 522.7L236.08 525.29M234.2 522.7L232.32 525.29M234.2 522.7L231.16 521.71" stroke="#000" stroke-width="1.52" stroke-linecap="round" fill="none"/>
<circle cx="234.2" cy="522.7" r="1.14" fill="#000"/>
<path d="M243 522.7L243 519.5M243 522.7L246.04 521.71M243 522.7L244.88 525.29M243 522.7L241.12 525.29M243 522.7L239.96 521.71" stroke="#000" stroke-width="1.52" stroke-linecap="round" fill="none"/>
<circle cx="243" cy="522.7" r="1.14" fill="#000"/>
<path d="M251.8 522.7L251.8 519.5M251.8 522.7L254.84 521.71M251.8 522.7L253.68 525.29M251.8 522.7L249.92 525.29M251.8 522.7L248.76 521.71" stroke="#000" stroke-width="1.52" stroke-linecap="round" fill="none"/>
<circle cx="251.8" cy="522.7" r="1.14" fill="#000"/>
<polyline points="133.2,689.1 133.2,673.8 254.3,673.8 254.3,727" fill="none" stroke="#000" stroke-width="2.2" stroke-linejoin="miter" stroke-linecap="butt"/>
<line x1="188.2" y1="673.8" x2="188.2" y2="683" stroke="#000" stroke-width="2.2"/>
<text x="159.5" y="671" font-family='"Liberation Sans", sans-serif' font-size="20" font-weight="normal" text-anchor="middle" fill="#000">ns</text>
<path d="M213.2 659.5L213.2 656.3M213.2 659.5L216.24 658.51M213.2 659.5L215.08 662.09M213.2 659.5L211.32 662.09M213.2 659.5L210.16 658.51" stroke="#000" stroke-width="1.52" stroke-linecap="round" fill="none"/>
<circle cx="213.2" cy="659.5" r="1.14" fill="#000"/>
<path d="M222 659.5L222 656.3M222 659.5L225.04 658.51M222 659.5L223.88 662.09M222 659.5L220.12 662.09M222 659.5L218.96 658.51" stroke="#000" stroke-width="1.52" stroke-linecap="round" fill="none"/>
<circle cx="222" cy="659.5" r="1.14" fill="#000"/>
<path d="M230.8 659.5L230.8 656.3M230.8 659.5L233.84 658.51M230.8 659.5L232.68 662.09M230.8 659.5L228.92 662.09M230.8 659.5L227.76 658.51" stroke="#000" stroke-width="1.52" stroke-linecap="round" fill="none"/>
<circle cx="230.8" cy="659.5" r="1.14" fill="#000"/>
<text transform="translate(222,482) scale(1,1.08)" x="0" y="0" font-family='"Liberation Serif", serif' font-size="24" text-anchor="middle">Brain</text>
<text transform="translate(18.9,643) rotate(-90)" x="0" y="0" font-family='"Liberation Serif", serif' font-size="20.9" font-weight="bold" text-anchor="middle">Nc number of 500 ng DNA</text>
<text x="4" y="472.6" font-family='"Liberation Sans", sans-serif' font-size="29" font-weight="bold" text-anchor="start" fill="#000">C</text>
<rect x="526.8" y="676.8" width="38.9" height="94.2" fill="#000"/>
<rect x="586.2" y="678.4" width="39" height="92.6" fill="#fff"/>
<path d="M587.8 771L587.8 680L623.6 680L623.6 771" fill="none" stroke="#000" stroke-width="3.2" stroke-linejoin="miter"/>
<rect x="645.8" y="736.1" width="38.9" height="34.9" fill="#d9d9d9"/>
<path d="M647.3 771L647.3 737.6L683.2 737.6L683.2 771" fill="none" stroke="#808080" stroke-width="3" stroke-linejoin="miter"/>
<rect x="705.2" y="595.7" width="38.8" height="175.3" fill="#d9d9d9"/>
<line x1="546.3" y1="623.1" x2="546.3" y2="677" stroke="#000" stroke-width="1.4"/>
<line x1="536.55" y1="623.1" x2="556.05" y2="623.1" stroke="#000" stroke-width="1.8"/>
<line x1="605.7" y1="629.5" x2="605.7" y2="680" stroke="#000" stroke-width="1.4"/>
<line x1="595.95" y1="629.5" x2="615.45" y2="629.5" stroke="#000" stroke-width="1.8"/>
<line x1="665.1" y1="706.8" x2="665.1" y2="737" stroke="#000" stroke-width="1.4"/>
<line x1="655.35" y1="706.8" x2="674.85" y2="706.8" stroke="#000" stroke-width="1.8"/>
<line x1="724.6" y1="544.2" x2="724.6" y2="596" stroke="#000" stroke-width="1.4"/>
<line x1="714.85" y1="544.2" x2="734.35" y2="544.2" stroke="#000" stroke-width="1.8"/>
<line x1="506.3" y1="512.3" x2="506.3" y2="772.2" stroke="#000" stroke-width="2.4"/>
<line x1="496.8" y1="771" x2="765.2" y2="771" stroke="#000" stroke-width="2.4"/>
<line x1="495.3" y1="513.3" x2="506.3" y2="513.3" stroke="#000" stroke-width="2"/>
<line x1="495.3" y1="565.4" x2="506.3" y2="565.4" stroke="#000" stroke-width="2"/>
<line x1="495.3" y1="616.8" x2="506.3" y2="616.8" stroke="#000" stroke-width="2"/>
<line x1="495.3" y1="668" x2="506.3" y2="668" stroke="#000" stroke-width="2"/>
<line x1="495.3" y1="719.5" x2="506.3" y2="719.5" stroke="#000" stroke-width="2"/>
<line x1="495.3" y1="771" x2="506.3" y2="771" stroke="#000" stroke-width="2"/>
<line x1="546.3" y1="771" x2="546.3" y2="782" stroke="#000" stroke-width="2.4"/>
<line x1="605.7" y1="771" x2="605.7" y2="782" stroke="#000" stroke-width="2.4"/>
<line x1="665.1" y1="771" x2="665.1" y2="782" stroke="#000" stroke-width="2.4"/>
<line x1="724.6" y1="771" x2="724.6" y2="782" stroke="#000" stroke-width="2.4"/>
<text x="493.5" y="521.3" font-family='"Liberation Serif", serif' font-size="20" font-weight="bold" text-anchor="end">5<tspan dx="1">×</tspan><tspan dx="1">10</tspan><tspan dx="0.5" font-size="12.4" dy="-7.2">4</tspan></text>
<text x="493.5" y="573.4" font-family='"Liberation Serif", serif' font-size="20" font-weight="bold" text-anchor="end">4<tspan dx="1">×</tspan><tspan dx="1">10</tspan><tspan dx="0.5" font-size="12.4" dy="-7.2">4</tspan></text>
<text x="493.5" y="624.8" font-family='"Liberation Serif", serif' font-size="20" font-weight="bold" text-anchor="end">3<tspan dx="1">×</tspan><tspan dx="1">10</tspan><tspan dx="0.5" font-size="12.4" dy="-7.2">4</tspan></text>
<text x="493.5" y="676" font-family='"Liberation Serif", serif' font-size="20" font-weight="bold" text-anchor="end">2<tspan dx="1">×</tspan><tspan dx="1">10</tspan><tspan dx="0.5" font-size="12.4" dy="-7.2">4</tspan></text>
<text x="493.5" y="727.5" font-family='"Liberation Serif", serif' font-size="20" font-weight="bold" text-anchor="end">1<tspan dx="1">×</tspan><tspan dx="1">10</tspan><tspan dx="0.5" font-size="12.4" dy="-7.2">4</tspan></text>
<text x="493.5" y="779" font-family='"Liberation Serif", serif' font-size="20" font-weight="bold" text-anchor="end" fill="#000">0</text>
<text transform="translate(552.3,799.5) rotate(-45)" x="0" y="0" font-family='"Liberation Serif", serif' font-size="19.5" font-weight="bold" text-anchor="end">Nc</text>
<text transform="translate(611.7,799.5) rotate(-45)" x="0" y="0" font-family='"Liberation Serif", serif' font-size="19.5" font-weight="bold" text-anchor="end">Solvent-Nc</text>
<text transform="translate(671.1,799.5) rotate(-45)" x="0" y="0" font-family='"Liberation Serif", serif' font-size="19.5" font-weight="bold" text-anchor="end">Mdivi1-Nc</text>
<text transform="translate(730.6,799.5) rotate(-45)" x="0" y="0" font-family='"Liberation Serif", serif' font-size="19.5" font-weight="bold" text-anchor="end">CCCP-Nc</text>
<polyline points="603.3,579 603.3,510 725.1,510 725.1,522.7" fill="none" stroke="#000" stroke-width="2.2" stroke-linejoin="miter" stroke-linecap="butt"/>
<path d="M662.6 496L662.6 492.8M662.6 496L665.64 495.01M662.6 496L664.48 498.59M662.6 496L660.72 498.59M662.6 496L659.56 495.01" stroke="#000" stroke-width="1.52" stroke-linecap="round" fill="none"/>
<circle cx="662.6" cy="496" r="1.14" fill="#000"/>
<polyline points="547.4,623 547.4,595.4 667.3,595.4 667.3,689.5" fill="none" stroke="#000" stroke-width="2.2" stroke-linejoin="miter" stroke-linecap="butt"/>
<line x1="603.3" y1="595.4" x2="603.3" y2="610.5" stroke="#000" stroke-width="2.2"/>
<text x="574.6" y="593" font-family='"Liberation Sans", sans-serif' font-size="20" font-weight="normal" text-anchor="middle" fill="#000">ns</text>
<path d="M636.7 578L636.7 574.8M636.7 578L639.74 577.01M636.7 578L638.58 580.59M636.7 578L634.82 580.59M636.7 578L633.66 577.01" stroke="#000" stroke-width="1.52" stroke-linecap="round" fill="none"/>
<circle cx="636.7" cy="578" r="1.14" fill="#000"/>
<text transform="translate(636.5,482) scale(1,1.08)" x="0" y="0" font-family='"Liberation Serif", serif' font-size="24" text-anchor="middle">Heart</text>
<text transform="translate(431.9,642.9) rotate(-90)" x="0" y="0" font-family='"Liberation Serif", serif' font-size="20.85" font-weight="bold" text-anchor="middle">Nc number of 500 ng DNA</text>
<text x="417.8" y="472.8" font-family='"Liberation Sans", sans-serif' font-size="29" font-weight="bold" text-anchor="start" fill="#000">D</text>
<rect x="950" y="646.8" width="38.3" height="120.7" fill="#000"/>
<rect x="1009.5" y="649" width="37.2" height="118.5" fill="#fff"/>
<path d="M1011.1 767.5L1011.1 650.6L1045.1 650.6L1045.1 767.5" fill="none" stroke="#000" stroke-width="3.2" stroke-linejoin="miter"/>
<rect x="1068.5" y="738.4" width="37.3" height="29.1" fill="#d9d9d9"/>
<path d="M1070 767.5L1070 739.9L1104.3 739.9L1104.3 767.5" fill="none" stroke="#808080" stroke-width="3" stroke-linejoin="miter"/>
<rect x="1126.3" y="600" width="38.5" height="167.5" fill="#d9d9d9"/>
<line x1="969" y1="630.4" x2="969" y2="647" stroke="#000" stroke-width="1.4"/>
<line x1="959.25" y1="630.4" x2="978.75" y2="630.4" stroke="#000" stroke-width="1.8"/>
<line x1="1028" y1="633.2" x2="1028" y2="650" stroke="#000" stroke-width="1.4"/>
<line x1="1018.25" y1="633.2" x2="1037.75" y2="633.2" stroke="#000" stroke-width="1.8"/>
<line x1="1087" y1="722" x2="1087" y2="739" stroke="#000" stroke-width="1.4"/>
<line x1="1077.25" y1="722" x2="1096.75" y2="722" stroke="#000" stroke-width="1.8"/>
<line x1="1145.5" y1="556.8" x2="1145.5" y2="601" stroke="#000" stroke-width="1.4"/>
<line x1="1135.75" y1="556.8" x2="1155.25" y2="556.8" stroke="#000" stroke-width="1.8"/>
<line x1="930.5" y1="512.3" x2="930.5" y2="768.7" stroke="#000" stroke-width="2.4"/>
<line x1="920.4" y1="767.5" x2="1185.7" y2="767.5" stroke="#000" stroke-width="2.4"/>
<line x1="919.5" y1="513.3" x2="930.5" y2="513.3" stroke="#000" stroke-width="2"/>
<line x1="919.5" y1="576.7" x2="930.5" y2="576.7" stroke="#000" stroke-width="2"/>
<line x1="919.5" y1="640.5" x2="930.5" y2="640.5" stroke="#000" stroke-width="2"/>
<line x1="919.5" y1="703.7" x2="930.5" y2="703.7" stroke="#000" stroke-width="2"/>
<line x1="919.5" y1="767.5" x2="930.5" y2="767.5" stroke="#000" stroke-width="2"/>
<line x1="969" y1="767.5" x2="969" y2="778.5" stroke="#000" stroke-width="2.4"/>
<line x1="1028" y1="767.5" x2="1028" y2="778.5" stroke="#000" stroke-width="2.4"/>
<line x1="1087" y1="767.5" x2="1087" y2="778.5" stroke="#000" stroke-width="2.4"/>
<line x1="1145.5" y1="767.5" x2="1145.5" y2="778.5" stroke="#000" stroke-width="2.4"/>
<text x="916.3" y="520.9" font-family='"Liberation Serif", serif' font-size="19" font-weight="bold" text-anchor="end">2<tspan dx="1">×</tspan><tspan dx="1">10</tspan><tspan dx="0.5" font-size="11.78" dy="-6.84">5</tspan></text>
<text x="916.3" y="584.3" font-family='"Liberation Serif", serif' font-size="19" font-weight="bold" text-anchor="end">1.5<tspan dx="1">×</tspan><tspan dx="1">10</tspan><tspan dx="0.5" font-size="11.78" dy="-6.84">5</tspan></text>
<text x="916.3" y="648.1" font-family='"Liberation Serif", serif' font-size="19" font-weight="bold" text-anchor="end">1<tspan dx="1">×</tspan><tspan dx="1">10</tspan><tspan dx="0.5" font-size="11.78" dy="-6.84">5</tspan></text>
<text x="916.3" y="711.3" font-family='"Liberation Serif", serif' font-size="19" font-weight="bold" text-anchor="end">5<tspan dx="1">×</tspan><tspan dx="1">10</tspan><tspan dx="0.5" font-size="11.78" dy="-6.84">4</tspan></text>
<text x="916.3" y="775.1" font-family='"Liberation Serif", serif' font-size="19" font-weight="bold" text-anchor="end" fill="#000">0</text>
<text transform="translate(975,796) rotate(-45)" x="0" y="0" font-family='"Liberation Serif", serif' font-size="19.5" font-weight="bold" text-anchor="end">Nc</text>
<text transform="translate(1034,796) rotate(-45)" x="0" y="0" font-family='"Liberation Serif", serif' font-size="19.5" font-weight="bold" text-anchor="end">Solvent-Nc</text>
<text transform="translate(1093,796) rotate(-45)" x="0" y="0" font-family='"Liberation Serif", serif' font-size="19.5" font-weight="bold" text-anchor="end">Mdivi1-Nc</text>
<text transform="translate(1151.5,796) rotate(-45)" x="0" y="0" font-family='"Liberation Serif", serif' font-size="19.5" font-weight="bold" text-anchor="end">CCCP-Nc</text>
<polyline points="1024.6,552 1024.6,522 1149,522 1149,553.7" fill="none" stroke="#000" stroke-width="2.2" stroke-linejoin="miter" stroke-linecap="butt"/>
<path d="M1082.7 505.4L1082.7 502.2M1082.7 505.4L1085.74 504.41M1082.7 505.4L1084.58 507.99M1082.7 505.4L1080.82 507.99M1082.7 505.4L1079.66 504.41" stroke="#000" stroke-width="1.52" stroke-linecap="round" fill="none"/>
<circle cx="1082.7" cy="505.4" r="1.14" fill="#000"/>
<polyline points="969.4,630.4 969.4,603 1089.3,603 1089.3,696.4" fill="none" stroke="#000" stroke-width="2.2" stroke-linejoin="miter" stroke-linecap="butt"/>
<line x1="1026.8" y1="603" x2="1026.8" y2="613.7" stroke="#000" stroke-width="2.2"/>
<text x="996.3" y="600.2" font-family='"Liberation Sans", sans-serif' font-size="20" font-weight="normal" text-anchor="middle" fill="#000">ns</text>
<path d="M1051 588.4L1051 585.2M1051 588.4L1054.04 587.41M1051 588.4L1052.88 590.99M1051 588.4L1049.12 590.99M1051 588.4L1047.96 587.41" stroke="#000" stroke-width="1.52" stroke-linecap="round" fill="none"/>
<circle cx="1051" cy="588.4" r="1.14" fill="#000"/>
<text transform="translate(1057,482) scale(1,1.08)" x="0" y="0" font-family='"Liberation Serif", serif' font-size="24" text-anchor="middle">Lung</text>
<text transform="translate(844.7,641) rotate(-90)" x="0" y="0" font-family='"Liberation Serif", serif' font-size="20.55" font-weight="bold" text-anchor="middle">Nc number of 500 ng DNA</text>
<text x="827.8" y="472.8" font-family='"Liberation Sans", sans-serif' font-size="29" font-weight="bold" text-anchor="start" fill="#000">E</text>
<rect x="114.3" y="1085" width="38.2" height="150.9" fill="#000"/>
<rect x="173.7" y="1075.5" width="37.9" height="160.4" fill="#fff"/>
<path d="M175.3 1235.9L175.3 1077.1L210 1077.1L210 1235.9" fill="none" stroke="#000" stroke-width="3.2" stroke-linejoin="miter"/>
<rect x="233.7" y="1082.5" width="37.3" height="153.4" fill="#d9d9d9"/>
<path d="M235.2 1235.9L235.2 1084L269.5 1084L269.5 1235.9" fill="none" stroke="#808080" stroke-width="3" stroke-linejoin="miter"/>
<rect x="292" y="1052.8" width="39" height="183.1" fill="#a3a3a8"/>
<line x1="133.4" y1="1048.7" x2="133.4" y2="1086" stroke="#000" stroke-width="1.4"/>
<line x1="123.65" y1="1048.7" x2="143.15" y2="1048.7" stroke="#000" stroke-width="1.8"/>
<line x1="192.6" y1="1039.2" x2="192.6" y2="1076" stroke="#000" stroke-width="1.4"/>
<line x1="182.85" y1="1039.2" x2="202.35" y2="1039.2" stroke="#000" stroke-width="1.8"/>
<line x1="252.3" y1="1046.5" x2="252.3" y2="1083" stroke="#000" stroke-width="1.4"/>
<line x1="242.55" y1="1046.5" x2="262.05" y2="1046.5" stroke="#000" stroke-width="1.8"/>
<line x1="311.5" y1="1019.3" x2="311.5" y2="1053" stroke="#000" stroke-width="1.4"/>
<line x1="301.75" y1="1019.3" x2="321.25" y2="1019.3" stroke="#000" stroke-width="1.8"/>
<line x1="94.1" y1="978.2" x2="94.1" y2="1237.1" stroke="#000" stroke-width="2.4"/>
<line x1="82.7" y1="1235.9" x2="352.1" y2="1235.9" stroke="#000" stroke-width="2.4"/>
<line x1="83.1" y1="979.2" x2="94.1" y2="979.2" stroke="#000" stroke-width="2"/>
<line x1="83.1" y1="1043.9" x2="94.1" y2="1043.9" stroke="#000" stroke-width="2"/>
<line x1="83.1" y1="1108.7" x2="94.1" y2="1108.7" stroke="#000" stroke-width="2"/>
<line x1="83.1" y1="1172.8" x2="94.1" y2="1172.8" stroke="#000" stroke-width="2"/>
<line x1="83.1" y1="1235.9" x2="94.1" y2="1235.9" stroke="#000" stroke-width="2"/>
<line x1="133.2" y1="1235.9" x2="133.2" y2="1246.9" stroke="#000" stroke-width="2.4"/>
<line x1="192.9" y1="1235.9" x2="192.9" y2="1246.9" stroke="#000" stroke-width="2.4"/>
<line x1="252.1" y1="1235.9" x2="252.1" y2="1246.9" stroke="#000" stroke-width="2.4"/>
<line x1="311.5" y1="1235.9" x2="311.5" y2="1246.9" stroke="#000" stroke-width="2.4"/>
<text x="80" y="987.2" font-family='"Liberation Serif", serif' font-size="20" font-weight="bold" text-anchor="end">8<tspan dx="1">×</tspan><tspan dx="1">10</tspan><tspan dx="0.5" font-size="12.4" dy="-7.2">3</tspan></text>
<text x="80" y="1051.9" font-family='"Liberation Serif", serif' font-size="20" font-weight="bold" text-anchor="end">6<tspan dx="1">×</tspan><tspan dx="1">10</tspan><tspan dx="0.5" font-size="12.4" dy="-7.2">3</tspan></text>
<text x="80" y="1116.7" font-family='"Liberation Serif", serif' font-size="20" font-weight="bold" text-anchor="end">4<tspan dx="1">×</tspan><tspan dx="1">10</tspan><tspan dx="0.5" font-size="12.4" dy="-7.2">3</tspan></text>
<text x="80" y="1180.8" font-family='"Liberation Serif", serif' font-size="20" font-weight="bold" text-anchor="end">2<tspan dx="1">×</tspan><tspan dx="1">10</tspan><tspan dx="0.5" font-size="12.4" dy="-7.2">3</tspan></text>
<text x="80" y="1243.9" font-family='"Liberation Serif", serif' font-size="20" font-weight="bold" text-anchor="end" fill="#000">0</text>
<text transform="translate(139.2,1264.4) rotate(-45)" x="0" y="0" font-family='"Liberation Serif", serif' font-size="19.5" font-weight="bold" text-anchor="end">Nc</text>
<text transform="translate(198.9,1264.4) rotate(-45)" x="0" y="0" font-family='"Liberation Serif", serif' font-size="19.5" font-weight="bold" text-anchor="end">Solvent-Nc</text>
<text transform="translate(258.1,1264.4) rotate(-45)" x="0" y="0" font-family='"Liberation Serif", serif' font-size="19.5" font-weight="bold" text-anchor="end">Mdivi1-Nc</text>
<text transform="translate(317.5,1264.4) rotate(-45)" x="0" y="0" font-family='"Liberation Serif", serif' font-size="19.5" font-weight="bold" text-anchor="end">CCCP-Nc</text>
<line x1="134.2" y1="995.6" x2="311.7" y2="995.6" stroke="#000" stroke-width="2.2"/>
<text x="222.6" y="986.2" font-family='"Liberation Sans", sans-serif' font-size="20" font-weight="normal" text-anchor="middle" fill="#000">ns</text>
<text transform="translate(223.5,947.6) scale(1,1.08)" x="0" y="0" font-family='"Liberation Serif", serif' font-size="24" text-anchor="middle">Liver</text>
<text transform="translate(19.2,1107.9) rotate(-90)" x="0" y="0" font-family='"Liberation Serif", serif' font-size="20.85" font-weight="bold" text-anchor="middle">Nc number of 500 ng DNA</text>
<text x="4.1" y="940.8" font-family='"Liberation Sans", sans-serif' font-size="29" font-weight="bold" text-anchor="start" fill="#000">F</text>
<rect x="526.8" y="1182.9" width="38.9" height="53" fill="#000"/>
<rect x="586.8" y="1183.8" width="37.9" height="52.1" fill="#fff"/>
<path d="M588.4 1235.9L588.4 1185.4L623.1 1185.4L623.1 1235.9" fill="none" stroke="#000" stroke-width="3.2" stroke-linejoin="miter"/>
<rect x="646.2" y="1213.5" width="37.8" height="22.4" fill="#d9d9d9"/>
<path d="M647.7 1235.9L647.7 1215L682.5 1215L682.5 1235.9" fill="none" stroke="#808080" stroke-width="3" stroke-linejoin="miter"/>
<rect x="706.2" y="1049.3" width="37.8" height="186.6" fill="#d9d9d9"/>
<path d="M707.8 1235.9L707.8 1050.9L742.4 1050.9L742.4 1235.9" fill="none" stroke="#000" stroke-width="3.2" stroke-linejoin="miter"/>
<line x1="546.3" y1="1172.5" x2="546.3" y2="1183" stroke="#000" stroke-width="1.4"/>
<line x1="536.55" y1="1172.5" x2="556.05" y2="1172.5" stroke="#000" stroke-width="1.8"/>
<line x1="605.7" y1="1175" x2="605.7" y2="1184" stroke="#000" stroke-width="1.4"/>
<line x1="595.95" y1="1175" x2="615.45" y2="1175" stroke="#000" stroke-width="1.8"/>
<line x1="665.1" y1="1208.8" x2="665.1" y2="1214" stroke="#000" stroke-width="1.4"/>
<line x1="655.35" y1="1208.8" x2="674.85" y2="1208.8" stroke="#000" stroke-width="1.8"/>
<line x1="725.1" y1="1018.7" x2="725.1" y2="1050" stroke="#000" stroke-width="1.4"/>
<line x1="715.35" y1="1018.7" x2="734.85" y2="1018.7" stroke="#000" stroke-width="1.8"/>
<line x1="506.3" y1="978.2" x2="506.3" y2="1237.1" stroke="#000" stroke-width="2.4"/>
<line x1="496.8" y1="1235.9" x2="765.2" y2="1235.9" stroke="#000" stroke-width="2.4"/>
<line x1="495.3" y1="979.2" x2="506.3" y2="979.2" stroke="#000" stroke-width="2"/>
<line x1="495.3" y1="1065.4" x2="506.3" y2="1065.4" stroke="#000" stroke-width="2"/>
<line x1="495.3" y1="1150.7" x2="506.3" y2="1150.7" stroke="#000" stroke-width="2"/>
<line x1="495.3" y1="1235.9" x2="506.3" y2="1235.9" stroke="#000" stroke-width="2"/>
<line x1="546.3" y1="1235.9" x2="546.3" y2="1246.9" stroke="#000" stroke-width="2.4"/>
<line x1="605.7" y1="1235.9" x2="605.7" y2="1246.9" stroke="#000" stroke-width="2.4"/>
<line x1="665.1" y1="1235.9" x2="665.1" y2="1246.9" stroke="#000" stroke-width="2.4"/>
<line x1="725.1" y1="1235.9" x2="725.1" y2="1246.9" stroke="#000" stroke-width="2.4"/>
<text x="493.5" y="987.2" font-family='"Liberation Serif", serif' font-size="20" font-weight="bold" text-anchor="end">6<tspan dx="1">×</tspan><tspan dx="1">10</tspan><tspan dx="0.5" font-size="12.4" dy="-7.2">3</tspan></text>
<text x="493.5" y="1073.4" font-family='"Liberation Serif", serif' font-size="20" font-weight="bold" text-anchor="end">4<tspan dx="1">×</tspan><tspan dx="1">10</tspan><tspan dx="0.5" font-size="12.4" dy="-7.2">3</tspan></text>
<text x="493.5" y="1158.7" font-family='"Liberation Serif", serif' font-size="20" font-weight="bold" text-anchor="end">2<tspan dx="1">×</tspan><tspan dx="1">10</tspan><tspan dx="0.5" font-size="12.4" dy="-7.2">3</tspan></text>
<text x="493.5" y="1243.9" font-family='"Liberation Serif", serif' font-size="20" font-weight="bold" text-anchor="end" fill="#000">0</text>
<text transform="translate(552.3,1264.4) rotate(-45)" x="0" y="0" font-family='"Liberation Serif", serif' font-size="19.5" font-weight="bold" text-anchor="end">Nc</text>
<text transform="translate(611.7,1264.4) rotate(-45)" x="0" y="0" font-family='"Liberation Serif", serif' font-size="19.5" font-weight="bold" text-anchor="end">Sovlent-Nc</text>
<text transform="translate(671.1,1264.4) rotate(-45)" x="0" y="0" font-family='"Liberation Serif", serif' font-size="19.5" font-weight="bold" text-anchor="end">Mdivi1-Nc</text>
<text transform="translate(731.1,1264.4) rotate(-45)" x="0" y="0" font-family='"Liberation Serif", serif' font-size="19.5" font-weight="bold" text-anchor="end">CCCP-Nc</text>
<polyline points="605.1,1108.7 605.1,988 722,988 722,1009.2" fill="none" stroke="#000" stroke-width="2.2" stroke-linejoin="miter" stroke-linecap="butt"/>
<path d="M652.3 972L652.3 968.8M652.3 972L655.34 971.01M652.3 972L654.18 974.59M652.3 972L650.42 974.59M652.3 972L649.26 971.01" stroke="#000" stroke-width="1.52" stroke-linecap="round" fill="none"/>
<circle cx="652.3" cy="972" r="1.14" fill="#000"/>
<path d="M661.1 972L661.1 968.8M661.1 972L664.14 971.01M661.1 972L662.98 974.59M661.1 972L659.22 974.59M661.1 972L658.06 971.01" stroke="#000" stroke-width="1.52" stroke-linecap="round" fill="none"/>
<circle cx="661.1" cy="972" r="1.14" fill="#000"/>
<polyline points="546.4,1166 546.4,1148 675.2,1148 675.2,1183.5" fill="none" stroke="#000" stroke-width="2.2" stroke-linejoin="miter" stroke-linecap="butt"/>
<line x1="605" y1="1148" x2="605" y2="1157.6" stroke="#000" stroke-width="2.2"/>
<text x="576.5" y="1144.9" font-family='"Liberation Sans", sans-serif' font-size="20" font-weight="normal" text-anchor="middle" fill="#000">ns</text>
<path d="M636.4 1137L636.4 1133.8M636.4 1137L639.44 1136.01M636.4 1137L638.28 1139.59M636.4 1137L634.52 1139.59M636.4 1137L633.36 1136.01" stroke="#000" stroke-width="1.52" stroke-linecap="round" fill="none"/>
<circle cx="636.4" cy="1137" r="1.14" fill="#000"/>
<text transform="translate(636,947.6) scale(1,1.08)" x="0" y="0" font-family='"Liberation Serif", serif' font-size="24" text-anchor="middle">Spleen</text>
<text transform="translate(432.1,1108.6) rotate(-90)" x="0" y="0" font-family='"Liberation Serif", serif' font-size="20.7" font-weight="bold" text-anchor="middle">Nc number of 500 ng DNA</text>
<text x="417.9" y="940.8" font-family='"Liberation Sans", sans-serif' font-size="29" font-weight="bold" text-anchor="start" fill="#000">G</text>
<rect x="940" y="1113.4" width="37.9" height="122.5" fill="#000"/>
<rect x="1000" y="1117.5" width="37.2" height="118.4" fill="#fff"/>
<path d="M1001.6 1235.9L1001.6 1119.1L1035.6 1119.1L1035.6 1235.9" fill="none" stroke="#000" stroke-width="3.2" stroke-linejoin="miter"/>
<rect x="1059" y="1149" width="38" height="86.9" fill="#d9d9d9"/>
<path d="M1060.5 1235.9L1060.5 1150.5L1095.5 1150.5L1095.5 1235.9" fill="none" stroke="#808080" stroke-width="3" stroke-linejoin="miter"/>
<rect x="1118.4" y="1030.4" width="37.3" height="205.5" fill="#d9d9d9"/>
<path d="M1120 1235.9L1120 1032L1154.1 1032L1154.1 1235.9" fill="none" stroke="#000" stroke-width="3.2" stroke-linejoin="miter"/>
<line x1="959" y1="1094.5" x2="959" y2="1114" stroke="#000" stroke-width="1.4"/>
<line x1="949.25" y1="1094.5" x2="968.75" y2="1094.5" stroke="#000" stroke-width="1.8"/>
<line x1="1018.6" y1="1101.4" x2="1018.6" y2="1118" stroke="#000" stroke-width="1.4"/>
<line x1="1008.85" y1="1101.4" x2="1028.35" y2="1101.4" stroke="#000" stroke-width="1.8"/>
<line x1="1078" y1="1138" x2="1078" y2="1150" stroke="#000" stroke-width="1.4"/>
<line x1="1068.25" y1="1138" x2="1087.75" y2="1138" stroke="#000" stroke-width="1.8"/>
<line x1="1137" y1="1006.7" x2="1137" y2="1031" stroke="#000" stroke-width="1.4"/>
<line x1="1127.25" y1="1006.7" x2="1146.75" y2="1006.7" stroke="#000" stroke-width="1.8"/>
<line x1="919.5" y1="978.2" x2="919.5" y2="1237.1" stroke="#000" stroke-width="2.4"/>
<line x1="909" y1="1235.9" x2="1177.4" y2="1235.9" stroke="#000" stroke-width="2.4"/>
<line x1="908.5" y1="979.2" x2="919.5" y2="979.2" stroke="#000" stroke-width="2"/>
<line x1="908.5" y1="1043.9" x2="919.5" y2="1043.9" stroke="#000" stroke-width="2"/>
<line x1="908.5" y1="1108.7" x2="919.5" y2="1108.7" stroke="#000" stroke-width="2"/>
<line x1="908.5" y1="1172.5" x2="919.5" y2="1172.5" stroke="#000" stroke-width="2"/>
<line x1="908.5" y1="1235.9" x2="919.5" y2="1235.9" stroke="#000" stroke-width="2"/>
<line x1="959" y1="1235.9" x2="959" y2="1246.9" stroke="#000" stroke-width="2.4"/>
<line x1="1018.6" y1="1235.9" x2="1018.6" y2="1246.9" stroke="#000" stroke-width="2.4"/>
<line x1="1078" y1="1235.9" x2="1078" y2="1246.9" stroke="#000" stroke-width="2.4"/>
<line x1="1137" y1="1235.9" x2="1137" y2="1246.9" stroke="#000" stroke-width="2.4"/>
<text x="906" y="987.2" font-family='"Liberation Serif", serif' font-size="20" font-weight="bold" text-anchor="end">8<tspan dx="1">×</tspan><tspan dx="1">10</tspan><tspan dx="0.5" font-size="12.4" dy="-7.2">3</tspan></text>
<text x="906" y="1051.9" font-family='"Liberation Serif", serif' font-size="20" font-weight="bold" text-anchor="end">6<tspan dx="1">×</tspan><tspan dx="1">10</tspan><tspan dx="0.5" font-size="12.4" dy="-7.2">3</tspan></text>
<text x="906" y="1116.7" font-family='"Liberation Serif", serif' font-size="20" font-weight="bold" text-anchor="end">4<tspan dx="1">×</tspan><tspan dx="1">10</tspan><tspan dx="0.5" font-size="12.4" dy="-7.2">3</tspan></text>
<text x="906" y="1180.5" font-family='"Liberation Serif", serif' font-size="20" font-weight="bold" text-anchor="end">2<tspan dx="1">×</tspan><tspan dx="1">10</tspan><tspan dx="0.5" font-size="12.4" dy="-7.2">3</tspan></text>
<text x="906" y="1243.9" font-family='"Liberation Serif", serif' font-size="20" font-weight="bold" text-anchor="end" fill="#000">0</text>
<text transform="translate(965,1264.4) rotate(-45)" x="0" y="0" font-family='"Liberation Serif", serif' font-size="19.5" font-weight="bold" text-anchor="end">Nc</text>
<text transform="translate(1024.6,1264.4) rotate(-45)" x="0" y="0" font-family='"Liberation Serif", serif' font-size="19.5" font-weight="bold" text-anchor="end">Solvent-Nc</text>
<text transform="translate(1084,1264.4) rotate(-45)" x="0" y="0" font-family='"Liberation Serif", serif' font-size="19.5" font-weight="bold" text-anchor="end">Mdivi1-Nc</text>
<text transform="translate(1143,1264.4) rotate(-45)" x="0" y="0" font-family='"Liberation Serif", serif' font-size="19.5" font-weight="bold" text-anchor="end">CCCP-Nc</text>
<polyline points="1018.3,1023.4 1018.3,988.7 1137.3,988.7 1137.3,1006.7" fill="none" stroke="#000" stroke-width="2.2" stroke-linejoin="miter" stroke-linecap="butt"/>
<path d="M1068.7 975L1068.7 971.8M1068.7 975L1071.74 974.01M1068.7 975L1070.58 977.59M1068.7 975L1066.82 977.59M1068.7 975L1065.66 974.01" stroke="#000" stroke-width="1.52" stroke-linecap="round" fill="none"/>
<circle cx="1068.7" cy="975" r="1.14" fill="#000"/>
<path d="M1077.5 975L1077.5 971.8M1077.5 975L1080.54 974.01M1077.5 975L1079.38 977.59M1077.5 975L1075.62 977.59M1077.5 975L1074.46 974.01" stroke="#000" stroke-width="1.52" stroke-linecap="round" fill="none"/>
<circle cx="1077.5" cy="975" r="1.14" fill="#000"/>
<polyline points="962,1088 962,1061.3 1078.3,1061.3 1078.3,1107" fill="none" stroke="#000" stroke-width="2.2" stroke-linejoin="miter" stroke-linecap="butt"/>
<line x1="1018.3" y1="1061.3" x2="1018.3" y2="1084.4" stroke="#000" stroke-width="2.2"/>
<text x="989.5" y="1058.7" font-family='"Liberation Sans", sans-serif' font-size="20" font-weight="normal" text-anchor="middle" fill="#000">ns</text>
<path d="M1051.5 1051L1051.5 1047.8M1051.5 1051L1054.54 1050.01M1051.5 1051L1053.38 1053.59M1051.5 1051L1049.62 1053.59M1051.5 1051L1048.46 1050.01" stroke="#000" stroke-width="1.52" stroke-linecap="round" fill="none"/>
<circle cx="1051.5" cy="1051" r="1.14" fill="#000"/>
<text transform="translate(1048.5,947.6) scale(1,1.08)" x="0" y="0" font-family='"Liberation Serif", serif' font-size="24" text-anchor="middle">Kindey</text>
<text transform="translate(844.7,1108.6) rotate(-90)" x="0" y="0" font-family='"Liberation Serif", serif' font-size="20.7" font-weight="bold" text-anchor="middle">Nc number of 500 ng DNA</text>
<text x="829.9" y="940.8" font-family='"Liberation Sans", sans-serif' font-size="29" font-weight="bold" text-anchor="start" fill="#000">H</text>
<rect x="155.2" y="1577.9" width="34" height="104.6" fill="#a3a3a8"/>
<path d="M157.1 1682.5L157.1 1579.8L187.3 1579.8L187.3 1682.5" fill="none" stroke="#000" stroke-width="3.8" stroke-linejoin="miter"/>
<rect x="206.8" y="1576.6" width="34.3" height="105.9" fill="#808080"/>
<path d="M208.7 1682.5L208.7 1578.5L239.2 1578.5L239.2 1682.5" fill="none" stroke="#000" stroke-width="3.8" stroke-linejoin="miter"/>
<rect x="258.8" y="1493.5" width="33.6" height="189" fill="#d9d9d9"/>
<path d="M260.7 1682.5L260.7 1495.4L290.5 1495.4L290.5 1682.5" fill="none" stroke="#000" stroke-width="3.8" stroke-linejoin="miter"/>
<rect x="310" y="1641.3" width="33.9" height="41.2" fill="#5f5f5f"/>
<path d="M311.9 1682.5L311.9 1643.2L342 1643.2L342 1682.5" fill="none" stroke="#000" stroke-width="3.8" stroke-linejoin="miter"/>
<line x1="172.4" y1="1572.9" x2="172.4" y2="1579" stroke="#000" stroke-width="1.4"/>
<line x1="163.9" y1="1572.9" x2="180.9" y2="1572.9" stroke="#000" stroke-width="1.8"/>
<line x1="224.2" y1="1570.7" x2="224.2" y2="1578" stroke="#000" stroke-width="1.4"/>
<line x1="215.7" y1="1570.7" x2="232.7" y2="1570.7" stroke="#000" stroke-width="1.8"/>
<line x1="275.5" y1="1463" x2="275.5" y2="1495" stroke="#000" stroke-width="1.4"/>
<line x1="267" y1="1463" x2="284" y2="1463" stroke="#000" stroke-width="1.8"/>
<line x1="326.8" y1="1626.6" x2="326.8" y2="1643" stroke="#000" stroke-width="1.4"/>
<line x1="318.3" y1="1626.6" x2="335.3" y2="1626.6" stroke="#000" stroke-width="1.8"/>
<line x1="86.3" y1="1405.5" x2="86.3" y2="1683.95" stroke="#000" stroke-width="2.9"/>
<line x1="74.8" y1="1682.5" x2="362.5" y2="1682.5" stroke="#000" stroke-width="2.9"/>
<line x1="75.3" y1="1407.6" x2="86.3" y2="1407.6" stroke="#000" stroke-width="2"/>
<line x1="75.3" y1="1499.3" x2="86.3" y2="1499.3" stroke="#000" stroke-width="2"/>
<line x1="75.3" y1="1590.7" x2="86.3" y2="1590.7" stroke="#000" stroke-width="2"/>
<line x1="75.3" y1="1682.5" x2="86.3" y2="1682.5" stroke="#000" stroke-width="2"/>
<line x1="120.5" y1="1682.5" x2="120.5" y2="1693.5" stroke="#000" stroke-width="2.4"/>
<line x1="172.4" y1="1682.5" x2="172.4" y2="1693.5" stroke="#000" stroke-width="2.4"/>
<line x1="224.2" y1="1682.5" x2="224.2" y2="1693.5" stroke="#000" stroke-width="2.4"/>
<line x1="275.5" y1="1682.5" x2="275.5" y2="1693.5" stroke="#000" stroke-width="2.4"/>
<line x1="326.8" y1="1682.5" x2="326.8" y2="1693.5" stroke="#000" stroke-width="2.4"/>
<text x="71.5" y="1415.16" font-family='"Liberation Serif", serif' font-size="21" font-weight="bold" text-anchor="end" fill="#000">1500</text>
<text x="71.5" y="1506.86" font-family='"Liberation Serif", serif' font-size="21" font-weight="bold" text-anchor="end" fill="#000">1000</text>
<text x="71.5" y="1598.26" font-family='"Liberation Serif", serif' font-size="21" font-weight="bold" text-anchor="end" fill="#000">500</text>
<text x="71.5" y="1690.06" font-family='"Liberation Serif", serif' font-size="21" font-weight="bold" text-anchor="end" fill="#000">0</text>
<text transform="translate(126.5,1713.8) rotate(-45)" x="0" y="0" font-family='"Liberation Serif", serif' font-size="21" font-weight="bold" text-anchor="end">C</text>
<text transform="translate(178.4,1713.8) rotate(-45)" x="0" y="0" font-family='"Liberation Serif", serif' font-size="21" font-weight="bold" text-anchor="end">Nc</text>
<text transform="translate(230.2,1713.8) rotate(-45)" x="0" y="0" font-family='"Liberation Serif", serif' font-size="21" font-weight="bold" text-anchor="end">Solvent-Nc</text>
<text transform="translate(281.5,1713.8) rotate(-45)" x="0" y="0" font-family='"Liberation Serif", serif' font-size="21" font-weight="bold" text-anchor="end">Mdivi1-Nc</text>
<text transform="translate(332.8,1713.8) rotate(-45)" x="0" y="0" font-family='"Liberation Serif", serif' font-size="21" font-weight="bold" text-anchor="end">CCCP-Nc</text>
<path d="M261.2 1401.7L261.2 1398.5M261.2 1401.7L264.24 1400.71M261.2 1401.7L263.08 1404.29M261.2 1401.7L259.32 1404.29M261.2 1401.7L258.16 1400.71" stroke="#000" stroke-width="1.52" stroke-linecap="round" fill="none"/>
<circle cx="261.2" cy="1401.7" r="1.14" fill="#000"/>
<path d="M270 1401.7L270 1398.5M270 1401.7L273.04 1400.71M270 1401.7L271.88 1404.29M270 1401.7L268.12 1404.29M270 1401.7L266.96 1400.71" stroke="#000" stroke-width="1.52" stroke-linecap="round" fill="none"/>
<circle cx="270" cy="1401.7" r="1.14" fill="#000"/>
<path d="M278.8 1401.7L278.8 1398.5M278.8 1401.7L281.84 1400.71M278.8 1401.7L280.68 1404.29M278.8 1401.7L276.92 1404.29M278.8 1401.7L275.76 1400.71" stroke="#000" stroke-width="1.52" stroke-linecap="round" fill="none"/>
<circle cx="278.8" cy="1401.7" r="1.14" fill="#000"/>
<polyline points="217.9,1415.6 217.9,1411.8 327.5,1411.8 327.5,1601.3" fill="none" stroke="#000" stroke-width="2.2" stroke-linejoin="miter" stroke-linecap="butt"/>
<path d="M240 1429.2L240 1426M240 1429.2L243.04 1428.21M240 1429.2L241.88 1431.79M240 1429.2L238.12 1431.79M240 1429.2L236.96 1428.21" stroke="#000" stroke-width="1.52" stroke-linecap="round" fill="none"/>
<circle cx="240" cy="1429.2" r="1.14" fill="#000"/>
<polyline points="217.3,1489.2 217.3,1439.6 270,1439.6 270,1455.4" fill="none" stroke="#000" stroke-width="2.2" stroke-linejoin="miter" stroke-linecap="butt"/>
<text x="198.5" y="1523.21" font-family='"Liberation Sans", sans-serif' font-size="21" font-weight="normal" text-anchor="middle" fill="#000">ns</text>
<polyline points="168.3,1544.5 168.3,1530.9 218.5,1530.9 218.5,1544.5" fill="none" stroke="#000" stroke-width="2.2" stroke-linejoin="miter" stroke-linecap="butt"/>
<text transform="translate(16.3,1545.75) rotate(-90)" x="0" y="0" font-family='"Liberation Serif", serif' font-size="21.9" font-weight="bold" text-anchor="middle">IL-6 pg/ml</text>
<text x="4.1" y="1387.2" font-family='"Liberation Sans", sans-serif' font-size="29" font-weight="bold" text-anchor="start" fill="#000">I</text>
<rect x="501.6" y="1673" width="31.6" height="3.1" fill="#000"/>
<path d="M503.1 1676.1L503.1 1674.5L531.7 1674.5L531.7 1676.1" fill="none" stroke="#000" stroke-width="3" stroke-linejoin="miter"/>
<rect x="550.2" y="1508.8" width="31.6" height="167.3" fill="#a3a3a8"/>
<path d="M552 1676.1L552 1510.6L580 1510.6L580 1676.1" fill="none" stroke="#000" stroke-width="3.6" stroke-linejoin="miter"/>
<rect x="598.5" y="1504.2" width="31.5" height="171.9" fill="#808080"/>
<path d="M600.3 1676.1L600.3 1506L628.2 1506L628.2 1676.1" fill="none" stroke="#000" stroke-width="3.6" stroke-linejoin="miter"/>
<rect x="647" y="1464.4" width="31.5" height="211.7" fill="#d9d9d9"/>
<path d="M648.8 1676.1L648.8 1466.2L676.7 1466.2L676.7 1676.1" fill="none" stroke="#000" stroke-width="3.6" stroke-linejoin="miter"/>
<rect x="695.1" y="1620" width="31.9" height="56.1" fill="#5f5f5f"/>
<line x1="517.4" y1="1671.7" x2="517.4" y2="1674" stroke="#000" stroke-width="1.4"/>
<line x1="508.9" y1="1671.7" x2="525.9" y2="1671.7" stroke="#000" stroke-width="1.8"/>
<line x1="566" y1="1487.6" x2="566" y2="1510" stroke="#000" stroke-width="1.4"/>
<line x1="557.5" y1="1487.6" x2="574.5" y2="1487.6" stroke="#000" stroke-width="1.8"/>
<line x1="614.2" y1="1497.1" x2="614.2" y2="1505" stroke="#000" stroke-width="1.4"/>
<line x1="605.7" y1="1497.1" x2="622.7" y2="1497.1" stroke="#000" stroke-width="1.8"/>
<line x1="662.6" y1="1455.1" x2="662.6" y2="1465" stroke="#000" stroke-width="1.4"/>
<line x1="654.1" y1="1455.1" x2="671.1" y2="1455.1" stroke="#000" stroke-width="1.8"/>
<line x1="711" y1="1597.5" x2="711" y2="1621" stroke="#000" stroke-width="1.4"/>
<line x1="702.5" y1="1597.5" x2="719.5" y2="1597.5" stroke="#000" stroke-width="1.8"/>
<line x1="485.8" y1="1417.2" x2="485.8" y2="1677.3" stroke="#000" stroke-width="2.4"/>
<line x1="474.7" y1="1676.1" x2="744.7" y2="1676.1" stroke="#000" stroke-width="2.4"/>
<line x1="474.8" y1="1418.2" x2="485.8" y2="1418.2" stroke="#000" stroke-width="2"/>
<line x1="474.8" y1="1482.9" x2="485.8" y2="1482.9" stroke="#000" stroke-width="2"/>
<line x1="474.8" y1="1547.6" x2="485.8" y2="1547.6" stroke="#000" stroke-width="2"/>
<line x1="474.8" y1="1611.7" x2="485.8" y2="1611.7" stroke="#000" stroke-width="2"/>
<line x1="474.8" y1="1676.1" x2="485.8" y2="1676.1" stroke="#000" stroke-width="2"/>
<line x1="517.4" y1="1676.1" x2="517.4" y2="1687.1" stroke="#000" stroke-width="2.4"/>
<line x1="566" y1="1676.1" x2="566" y2="1687.1" stroke="#000" stroke-width="2.4"/>
<line x1="614.2" y1="1676.1" x2="614.2" y2="1687.1" stroke="#000" stroke-width="2.4"/>
<line x1="662.6" y1="1676.1" x2="662.6" y2="1687.1" stroke="#000" stroke-width="2.4"/>
<line x1="711" y1="1676.1" x2="711" y2="1687.1" stroke="#000" stroke-width="2.4"/>
<text x="471" y="1425.22" font-family='"Liberation Serif", serif' font-size="19.5" font-weight="bold" text-anchor="end" fill="#000">2000</text>
<text x="471" y="1489.92" font-family='"Liberation Serif", serif' font-size="19.5" font-weight="bold" text-anchor="end" fill="#000">1500</text>
<text x="471" y="1554.62" font-family='"Liberation Serif", serif' font-size="19.5" font-weight="bold" text-anchor="end" fill="#000">1000</text>
<text x="471" y="1618.72" font-family='"Liberation Serif", serif' font-size="19.5" font-weight="bold" text-anchor="end" fill="#000">500</text>
<text x="471" y="1683.12" font-family='"Liberation Serif", serif' font-size="19.5" font-weight="bold" text-anchor="end" fill="#000">0</text>
<text transform="translate(523.1,1703.3) rotate(-45)" x="0" y="0" font-family='"Liberation Serif", serif' font-size="19.6" font-weight="bold" text-anchor="end">C</text>
<text transform="translate(571.7,1703.3) rotate(-45)" x="0" y="0" font-family='"Liberation Serif", serif' font-size="19.6" font-weight="bold" text-anchor="end">NC</text>
<text transform="translate(619.9,1703.3) rotate(-45)" x="0" y="0" font-family='"Liberation Serif", serif' font-size="19.6" font-weight="bold" text-anchor="end">Solvent-Nc</text>
<text transform="translate(668.3,1703.3) rotate(-45)" x="0" y="0" font-family='"Liberation Serif", serif' font-size="19.6" font-weight="bold" text-anchor="end">Midvi1-Nc</text>
<text transform="translate(716.7,1703.3) rotate(-45)" x="0" y="0" font-family='"Liberation Serif", serif' font-size="19.6" font-weight="bold" text-anchor="end">CCCP-Nc</text>
<path d="M654.1 1400.8L654.1 1397.6M654.1 1400.8L657.14 1399.81M654.1 1400.8L655.98 1403.39M654.1 1400.8L652.22 1403.39M654.1 1400.8L651.06 1399.81" stroke="#000" stroke-width="1.52" stroke-linecap="round" fill="none"/>
<circle cx="654.1" cy="1400.8" r="1.14" fill="#000"/>
<path d="M662.9 1400.8L662.9 1397.6M662.9 1400.8L665.94 1399.81M662.9 1400.8L664.78 1403.39M662.9 1400.8L661.02 1403.39M662.9 1400.8L659.86 1399.81" stroke="#000" stroke-width="1.52" stroke-linecap="round" fill="none"/>
<circle cx="662.9" cy="1400.8" r="1.14" fill="#000"/>
<path d="M671.7 1400.8L671.7 1397.6M671.7 1400.8L674.74 1399.81M671.7 1400.8L673.58 1403.39M671.7 1400.8L669.82 1403.39M671.7 1400.8L668.66 1399.81" stroke="#000" stroke-width="1.52" stroke-linecap="round" fill="none"/>
<circle cx="671.7" cy="1400.8" r="1.14" fill="#000"/>
<polyline points="613.7,1414.4 613.7,1410.3 711,1410.3 711,1544.5" fill="none" stroke="#000" stroke-width="2.2" stroke-linejoin="miter" stroke-linecap="butt"/>
<path d="M634.8 1427L634.8 1423.8M634.8 1427L637.84 1426.01M634.8 1427L636.68 1429.59M634.8 1427L632.92 1429.59M634.8 1427L631.76 1426.01" stroke="#000" stroke-width="1.52" stroke-linecap="round" fill="none"/>
<circle cx="634.8" cy="1427" r="1.14" fill="#000"/>
<polyline points="610.5,1451.3 610.5,1437.7 662.6,1437.7 662.6,1451.3" fill="none" stroke="#000" stroke-width="2.2" stroke-linejoin="miter" stroke-linecap="butt"/>
<text x="585.2" y="1447.41" font-family='"Liberation Sans", sans-serif' font-size="21" font-weight="normal" text-anchor="middle" fill="#000">ns</text>
<polyline points="567.3,1482.9 567.3,1471.2 614.6,1471.2 614.6,1482.9" fill="none" stroke="#000" stroke-width="2.2" stroke-linejoin="miter" stroke-linecap="butt"/>
<text transform="translate(420,1547.6) rotate(-90)" x="0" y="0" font-family='"Liberation Serif", serif' font-size="20.7" font-weight="bold" text-anchor="middle">IL-12p40 pg/ml</text>
<text x="406.2" y="1387.2" font-family='"Liberation Sans", sans-serif' font-size="29" font-weight="bold" text-anchor="start" fill="#000">J</text>
<rect x="963.9" y="1502.8" width="33.5" height="168.6" fill="#a3a3a8"/>
<path d="M965.8 1671.4L965.8 1504.7L995.5 1504.7L995.5 1671.4" fill="none" stroke="#000" stroke-width="3.8" stroke-linejoin="miter"/>
<rect x="1014.4" y="1495.6" width="33.5" height="175.8" fill="#808080"/>
<path d="M1016.3 1671.4L1016.3 1497.5L1046 1497.5L1046 1671.4" fill="none" stroke="#000" stroke-width="3.8" stroke-linejoin="miter"/>
<rect x="1065.3" y="1458.2" width="33.4" height="213.2" fill="#d9d9d9"/>
<path d="M1067.2 1671.4L1067.2 1460.1L1096.8 1460.1L1096.8 1671.4" fill="none" stroke="#000" stroke-width="3.8" stroke-linejoin="miter"/>
<rect x="1115.8" y="1559.2" width="33.2" height="112.2" fill="#5f5f5f"/>
<line x1="980.4" y1="1489.2" x2="980.4" y2="1504" stroke="#000" stroke-width="1.4"/>
<line x1="971.9" y1="1489.2" x2="988.9" y2="1489.2" stroke="#000" stroke-width="1.8"/>
<line x1="1030.9" y1="1489.2" x2="1030.9" y2="1497" stroke="#000" stroke-width="1.4"/>
<line x1="1022.4" y1="1489.2" x2="1039.4" y2="1489.2" stroke="#000" stroke-width="1.8"/>
<line x1="1082.1" y1="1452.9" x2="1082.1" y2="1459" stroke="#000" stroke-width="1.4"/>
<line x1="1073.6" y1="1452.9" x2="1090.6" y2="1452.9" stroke="#000" stroke-width="1.8"/>
<line x1="1132.6" y1="1545.1" x2="1132.6" y2="1559" stroke="#000" stroke-width="1.4"/>
<line x1="1124.1" y1="1545.1" x2="1141.1" y2="1545.1" stroke="#000" stroke-width="1.8"/>
<line x1="896.7" y1="1400.4" x2="896.7" y2="1672.6" stroke="#000" stroke-width="2.4"/>
<line x1="884.7" y1="1671.4" x2="1167.3" y2="1671.4" stroke="#000" stroke-width="2.4"/>
<line x1="885.7" y1="1401.4" x2="896.7" y2="1401.4" stroke="#000" stroke-width="2"/>
<line x1="885.7" y1="1456" x2="896.7" y2="1456" stroke="#000" stroke-width="2"/>
<line x1="885.7" y1="1509.7" x2="896.7" y2="1509.7" stroke="#000" stroke-width="2"/>
<line x1="885.7" y1="1563.4" x2="896.7" y2="1563.4" stroke="#000" stroke-width="2"/>
<line x1="885.7" y1="1617.1" x2="896.7" y2="1617.1" stroke="#000" stroke-width="2"/>
<line x1="885.7" y1="1671.4" x2="896.7" y2="1671.4" stroke="#000" stroke-width="2"/>
<line x1="929.9" y1="1671.4" x2="929.9" y2="1682.4" stroke="#000" stroke-width="2.4"/>
<line x1="980.4" y1="1671.4" x2="980.4" y2="1682.4" stroke="#000" stroke-width="2.4"/>
<line x1="1030.9" y1="1671.4" x2="1030.9" y2="1682.4" stroke="#000" stroke-width="2.4"/>
<line x1="1082.1" y1="1671.4" x2="1082.1" y2="1682.4" stroke="#000" stroke-width="2.4"/>
<line x1="1132.6" y1="1671.4" x2="1132.6" y2="1682.4" stroke="#000" stroke-width="2.4"/>
<text x="881" y="1408.96" font-family='"Liberation Serif", serif' font-size="21" font-weight="bold" text-anchor="end" fill="#000">2500</text>
<text x="881" y="1463.56" font-family='"Liberation Serif", serif' font-size="21" font-weight="bold" text-anchor="end" fill="#000">2000</text>
<text x="881" y="1517.26" font-family='"Liberation Serif", serif' font-size="21" font-weight="bold" text-anchor="end" fill="#000">1500</text>
<text x="881" y="1570.96" font-family='"Liberation Serif", serif' font-size="21" font-weight="bold" text-anchor="end" fill="#000">1000</text>
<text x="881" y="1624.66" font-family='"Liberation Serif", serif' font-size="21" font-weight="bold" text-anchor="end" fill="#000">500</text>
<text x="881" y="1678.96" font-family='"Liberation Serif", serif' font-size="21" font-weight="bold" text-anchor="end" fill="#000">0</text>
<text transform="translate(935.7,1701.8) rotate(-45)" x="0" y="0" font-family='"Liberation Serif", serif' font-size="20.5" font-weight="bold" text-anchor="end">C</text>
<text transform="translate(986.2,1701.8) rotate(-45)" x="0" y="0" font-family='"Liberation Serif", serif' font-size="20.5" font-weight="bold" text-anchor="end">Nc</text>
<text transform="translate(1036.7,1701.8) rotate(-45)" x="0" y="0" font-family='"Liberation Serif", serif' font-size="20.5" font-weight="bold" text-anchor="end">Solvent-Nc</text>
<text transform="translate(1087.9,1701.8) rotate(-45)" x="0" y="0" font-family='"Liberation Serif", serif' font-size="20.5" font-weight="bold" text-anchor="end">Mdivi1-Nc</text>
<text transform="translate(1138.4,1701.8) rotate(-45)" x="0" y="0" font-family='"Liberation Serif", serif' font-size="20.5" font-weight="bold" text-anchor="end">CCCP-Nc</text>
<line x1="975.2" y1="1433.4" x2="1134.3" y2="1433.4" stroke="#000" stroke-width="2.2"/>
<line x1="976.3" y1="1432.3" x2="976.3" y2="1468" stroke="#000" stroke-width="2.2"/>
<line x1="1028.4" y1="1432.3" x2="1028.4" y2="1471.2" stroke="#000" stroke-width="2.6"/>
<line x1="1080.5" y1="1432.3" x2="1080.5" y2="1454.5" stroke="#000" stroke-width="2.2"/>
<line x1="1133.2" y1="1432.3" x2="1133.2" y2="1536.6" stroke="#000" stroke-width="2.2"/>
<text x="1002" y="1428.51" font-family='"Liberation Sans", sans-serif' font-size="21" font-weight="normal" text-anchor="middle" fill="#000">ns</text>
<path d="M1056.8 1417.2L1056.8 1414M1056.8 1417.2L1059.84 1416.21M1056.8 1417.2L1058.68 1419.79M1056.8 1417.2L1054.92 1419.79M1056.8 1417.2L1053.76 1416.21" stroke="#000" stroke-width="1.52" stroke-linecap="round" fill="none"/>
<circle cx="1056.8" cy="1417.2" r="1.14" fill="#000"/>
<path d="M1098.2 1417.2L1098.2 1414M1098.2 1417.2L1101.24 1416.21M1098.2 1417.2L1100.08 1419.79M1098.2 1417.2L1096.32 1419.79M1098.2 1417.2L1095.16 1416.21" stroke="#000" stroke-width="1.52" stroke-linecap="round" fill="none"/>
<circle cx="1098.2" cy="1417.2" r="1.14" fill="#000"/>
<path d="M1107 1417.2L1107 1414M1107 1417.2L1110.04 1416.21M1107 1417.2L1108.88 1419.79M1107 1417.2L1105.12 1419.79M1107 1417.2L1103.96 1416.21" stroke="#000" stroke-width="1.52" stroke-linecap="round" fill="none"/>
<circle cx="1107" cy="1417.2" r="1.14" fill="#000"/>
<path d="M1115.8 1417.2L1115.8 1414M1115.8 1417.2L1118.84 1416.21M1115.8 1417.2L1117.68 1419.79M1115.8 1417.2L1113.92 1419.79M1115.8 1417.2L1112.76 1416.21" stroke="#000" stroke-width="1.52" stroke-linecap="round" fill="none"/>
<circle cx="1115.8" cy="1417.2" r="1.14" fill="#000"/>
<text transform="translate(828.3,1537.75) rotate(-90)" x="0" y="0" font-family='"Liberation Serif", serif' font-size="21.4" font-weight="bold" text-anchor="middle">IFN-γ pg/ml</text>
<text x="815.8" y="1380" font-family='"Liberation Sans", sans-serif' font-size="29" font-weight="bold" text-anchor="start" fill="#000">K</text>
<rect x="155" y="1897.6" width="32.8" height="159.3" fill="#a3a3a8"/>
<path d="M156.9 2056.9L156.9 1899.5L185.9 1899.5L185.9 2056.9" fill="none" stroke="#000" stroke-width="3.8" stroke-linejoin="miter"/>
<rect x="205.2" y="1876.6" width="33" height="180.3" fill="#808080"/>
<path d="M207.1 2056.9L207.1 1878.5L236.3 1878.5L236.3 2056.9" fill="none" stroke="#000" stroke-width="3.8" stroke-linejoin="miter"/>
<rect x="256.1" y="1882.3" width="32.6" height="174.6" fill="#d9d9d9"/>
<path d="M258 2056.9L258 1884.2L286.8 1884.2L286.8 2056.9" fill="none" stroke="#000" stroke-width="3.8" stroke-linejoin="miter"/>
<rect x="306.1" y="1923.7" width="32.9" height="133.2" fill="#5f5f5f"/>
<line x1="171.5" y1="1871" x2="171.5" y2="1899" stroke="#000" stroke-width="1.4"/>
<line x1="163" y1="1871" x2="180" y2="1871" stroke="#000" stroke-width="1.8"/>
<line x1="222" y1="1847" x2="222" y2="1878" stroke="#000" stroke-width="1.4"/>
<line x1="213.5" y1="1847" x2="230.5" y2="1847" stroke="#000" stroke-width="1.8"/>
<line x1="272" y1="1857.4" x2="272" y2="1883" stroke="#000" stroke-width="1.4"/>
<line x1="263.5" y1="1857.4" x2="280.5" y2="1857.4" stroke="#000" stroke-width="1.8"/>
<line x1="322.5" y1="1916.4" x2="322.5" y2="1924" stroke="#000" stroke-width="1.4"/>
<line x1="314" y1="1916.4" x2="331" y2="1916.4" stroke="#000" stroke-width="1.8"/>
<line x1="86.8" y1="1786.9" x2="86.8" y2="2058.1" stroke="#000" stroke-width="2.4"/>
<line x1="75.8" y1="2056.9" x2="357.5" y2="2056.9" stroke="#000" stroke-width="2.4"/>
<line x1="75.8" y1="1787.9" x2="86.8" y2="1787.9" stroke="#000" stroke-width="2"/>
<line x1="75.8" y1="1855.2" x2="86.8" y2="1855.2" stroke="#000" stroke-width="2"/>
<line x1="75.8" y1="1922.1" x2="86.8" y2="1922.1" stroke="#000" stroke-width="2"/>
<line x1="75.8" y1="1989.4" x2="86.8" y2="1989.4" stroke="#000" stroke-width="2"/>
<line x1="75.8" y1="2056.9" x2="86.8" y2="2056.9" stroke="#000" stroke-width="2"/>
<line x1="121" y1="2056.9" x2="121" y2="2067.9" stroke="#000" stroke-width="2.4"/>
<line x1="171.5" y1="2056.9" x2="171.5" y2="2067.9" stroke="#000" stroke-width="2.4"/>
<line x1="222" y1="2056.9" x2="222" y2="2067.9" stroke="#000" stroke-width="2.4"/>
<line x1="272" y1="2056.9" x2="272" y2="2067.9" stroke="#000" stroke-width="2.4"/>
<line x1="322.5" y1="2056.9" x2="322.5" y2="2067.9" stroke="#000" stroke-width="2.4"/>
<text x="73.3" y="1795.46" font-family='"Liberation Serif", serif' font-size="21" font-weight="bold" text-anchor="end" fill="#000">200</text>
<text x="73.3" y="1862.76" font-family='"Liberation Serif", serif' font-size="21" font-weight="bold" text-anchor="end" fill="#000">150</text>
<text x="73.3" y="1929.66" font-family='"Liberation Serif", serif' font-size="21" font-weight="bold" text-anchor="end" fill="#000">100</text>
<text x="73.3" y="1996.96" font-family='"Liberation Serif", serif' font-size="21" font-weight="bold" text-anchor="end" fill="#000">50</text>
<text x="73.3" y="2064.46" font-family='"Liberation Serif", serif' font-size="21" font-weight="bold" text-anchor="end" fill="#000">0</text>
<text transform="translate(126.7,2086.2) rotate(-45)" x="0" y="0" font-family='"Liberation Serif", serif' font-size="20.2" font-weight="bold" text-anchor="end">C</text>
<text transform="translate(177.2,2086.2) rotate(-45)" x="0" y="0" font-family='"Liberation Serif", serif' font-size="20.2" font-weight="bold" text-anchor="end">Nc</text>
<text transform="translate(227.7,2086.2) rotate(-45)" x="0" y="0" font-family='"Liberation Serif", serif' font-size="20.2" font-weight="bold" text-anchor="end">Solvent-Nc</text>
<text transform="translate(277.7,2086.2) rotate(-45)" x="0" y="0" font-family='"Liberation Serif", serif' font-size="20.2" font-weight="bold" text-anchor="end">Mdivi1-Nc</text>
<text transform="translate(328.2,2086.2) rotate(-45)" x="0" y="0" font-family='"Liberation Serif", serif' font-size="20.2" font-weight="bold" text-anchor="end">CCCP-Nc</text>
<line x1="172.1" y1="1833" x2="343.6" y2="1833" stroke="#000" stroke-width="2.2"/>
<text x="247.5" y="1823.81" font-family='"Liberation Sans", sans-serif' font-size="21" font-weight="normal" text-anchor="middle" fill="#000">ns</text>
<text transform="translate(31.1,1923.5) rotate(-90)" x="0" y="0" font-family='"Liberation Serif", serif' font-size="21.25" font-weight="bold" text-anchor="middle">TNF-α pg/ml</text>
<text x="4.1" y="1787.4" font-family='"Liberation Sans", sans-serif' font-size="29" font-weight="bold" text-anchor="start" fill="#000">L</text>
<rect x="518.5" y="2053.7" width="30.3" height="4.7" fill="#000"/>
<rect x="565" y="1933.9" width="30.7" height="124.5" fill="#a3a3a8"/>
<path d="M566.8 2058.4L566.8 1935.7L593.9 1935.7L593.9 2058.4" fill="none" stroke="#000" stroke-width="3.6" stroke-linejoin="miter"/>
<rect x="612.5" y="1922.7" width="31" height="135.7" fill="#808080"/>
<path d="M614.3 2058.4L614.3 1924.5L641.7 1924.5L641.7 2058.4" fill="none" stroke="#000" stroke-width="3.6" stroke-linejoin="miter"/>
<rect x="659.8" y="1866.6" width="31" height="191.8" fill="#d9d9d9"/>
<path d="M661.6 2058.4L661.6 1868.4L689 1868.4L689 2058.4" fill="none" stroke="#000" stroke-width="3.6" stroke-linejoin="miter"/>
<rect x="707" y="2005.7" width="31.3" height="52.7" fill="#5f5f5f"/>
<line x1="533.4" y1="2051.1" x2="533.4" y2="2054" stroke="#000" stroke-width="1.4"/>
<line x1="524.9" y1="2051.1" x2="541.9" y2="2051.1" stroke="#000" stroke-width="1.8"/>
<line x1="580.5" y1="1921.7" x2="580.5" y2="1935" stroke="#000" stroke-width="1.4"/>
<line x1="572" y1="1921.7" x2="589" y2="1921.7" stroke="#000" stroke-width="1.8"/>
<line x1="627.9" y1="1907.5" x2="627.9" y2="1924" stroke="#000" stroke-width="1.4"/>
<line x1="619.4" y1="1907.5" x2="636.4" y2="1907.5" stroke="#000" stroke-width="1.8"/>
<line x1="675.2" y1="1836.4" x2="675.2" y2="1868" stroke="#000" stroke-width="1.4"/>
<line x1="666.7" y1="1836.4" x2="683.7" y2="1836.4" stroke="#000" stroke-width="1.8"/>
<line x1="722.6" y1="1966.8" x2="722.6" y2="2006" stroke="#000" stroke-width="1.4"/>
<line x1="714.1" y1="1966.8" x2="731.1" y2="1966.8" stroke="#000" stroke-width="1.8"/>
<line x1="501.6" y1="1805.7" x2="501.6" y2="2059.6" stroke="#000" stroke-width="2.4"/>
<line x1="491.5" y1="2058.4" x2="754.2" y2="2058.4" stroke="#000" stroke-width="2.4"/>
<line x1="490.6" y1="1806.7" x2="501.6" y2="1806.7" stroke="#000" stroke-width="2"/>
<line x1="490.6" y1="1857.3" x2="501.6" y2="1857.3" stroke="#000" stroke-width="2"/>
<line x1="490.6" y1="1907.8" x2="501.6" y2="1907.8" stroke="#000" stroke-width="2"/>
<line x1="490.6" y1="1958.3" x2="501.6" y2="1958.3" stroke="#000" stroke-width="2"/>
<line x1="490.6" y1="2008.8" x2="501.6" y2="2008.8" stroke="#000" stroke-width="2"/>
<line x1="490.6" y1="2058.4" x2="501.6" y2="2058.4" stroke="#000" stroke-width="2"/>
<line x1="533.4" y1="2058.4" x2="533.4" y2="2069.4" stroke="#000" stroke-width="2.4"/>
<line x1="580.5" y1="2058.4" x2="580.5" y2="2069.4" stroke="#000" stroke-width="2.4"/>
<line x1="627.9" y1="2058.4" x2="627.9" y2="2069.4" stroke="#000" stroke-width="2.4"/>
<line x1="675.2" y1="2058.4" x2="675.2" y2="2069.4" stroke="#000" stroke-width="2.4"/>
<line x1="722.6" y1="2058.4" x2="722.6" y2="2069.4" stroke="#000" stroke-width="2.4"/>
<text x="487.5" y="1813.72" font-family='"Liberation Serif", serif' font-size="19.5" font-weight="bold" text-anchor="end" fill="#000">1000</text>
<text x="487.5" y="1864.32" font-family='"Liberation Serif", serif' font-size="19.5" font-weight="bold" text-anchor="end" fill="#000">800</text>
<text x="487.5" y="1914.82" font-family='"Liberation Serif", serif' font-size="19.5" font-weight="bold" text-anchor="end" fill="#000">600</text>
<text x="487.5" y="1965.32" font-family='"Liberation Serif", serif' font-size="19.5" font-weight="bold" text-anchor="end" fill="#000">400</text>
<text x="487.5" y="2015.82" font-family='"Liberation Serif", serif' font-size="19.5" font-weight="bold" text-anchor="end" fill="#000">200</text>
<text x="487.5" y="2065.42" font-family='"Liberation Serif", serif' font-size="19.5" font-weight="bold" text-anchor="end" fill="#000">0</text>
<text transform="translate(538.6,2085.4) rotate(-45)" x="0" y="0" font-family='"Liberation Serif", serif' font-size="19" font-weight="bold" text-anchor="end">C</text>
<text transform="translate(585.7,2085.4) rotate(-45)" x="0" y="0" font-family='"Liberation Serif", serif' font-size="19" font-weight="bold" text-anchor="end">Nc</text>
<text transform="translate(633.1,2085.4) rotate(-45)" x="0" y="0" font-family='"Liberation Serif", serif' font-size="19" font-weight="bold" text-anchor="end">Solvent-Nc</text>
<text transform="translate(680.4,2085.4) rotate(-45)" x="0" y="0" font-family='"Liberation Serif", serif' font-size="19" font-weight="bold" text-anchor="end">Mdivi1-Nc</text>
<text transform="translate(727.8,2085.4) rotate(-45)" x="0" y="0" font-family='"Liberation Serif", serif' font-size="19" font-weight="bold" text-anchor="end">CCCP-Nc</text>
<path d="M666.4 1778L666.4 1774.8M666.4 1778L669.44 1777.01M666.4 1778L668.28 1780.59M666.4 1778L664.52 1780.59M666.4 1778L663.36 1777.01" stroke="#000" stroke-width="1.52" stroke-linecap="round" fill="none"/>
<circle cx="666.4" cy="1778" r="1.14" fill="#000"/>
<path d="M675.2 1778L675.2 1774.8M675.2 1778L678.24 1777.01M675.2 1778L677.08 1780.59M675.2 1778L673.32 1780.59M675.2 1778L672.16 1777.01" stroke="#000" stroke-width="1.52" stroke-linecap="round" fill="none"/>
<circle cx="675.2" cy="1778" r="1.14" fill="#000"/>
<path d="M684 1778L684 1774.8M684 1778L687.04 1777.01M684 1778L685.88 1780.59M684 1778L682.12 1780.59M684 1778L680.96 1777.01" stroke="#000" stroke-width="1.52" stroke-linecap="round" fill="none"/>
<circle cx="684" cy="1778" r="1.14" fill="#000"/>
<polyline points="627.2,1799.5 627.2,1795.4 723.2,1795.4 723.2,1926.7" fill="none" stroke="#000" stroke-width="2.2" stroke-linejoin="miter" stroke-linecap="butt"/>
<path d="M646.8 1811.2L646.8 1808M646.8 1811.2L649.84 1810.21M646.8 1811.2L648.68 1813.79M646.8 1811.2L644.92 1813.79M646.8 1811.2L643.76 1810.21" stroke="#000" stroke-width="1.52" stroke-linecap="round" fill="none"/>
<circle cx="646.8" cy="1811.2" r="1.14" fill="#000"/>
<path d="M655.6 1811.2L655.6 1808M655.6 1811.2L658.64 1810.21M655.6 1811.2L657.48 1813.79M655.6 1811.2L653.72 1813.79M655.6 1811.2L652.56 1810.21" stroke="#000" stroke-width="1.52" stroke-linecap="round" fill="none"/>
<circle cx="655.6" cy="1811.2" r="1.14" fill="#000"/>
<polyline points="627.2,1874.3 627.2,1821.6 675.2,1821.6 675.2,1835.8" fill="none" stroke="#000" stroke-width="2.2" stroke-linejoin="miter" stroke-linecap="butt"/>
<text x="603.1" y="1880.81" font-family='"Liberation Sans", sans-serif' font-size="21" font-weight="normal" text-anchor="middle" fill="#000">ns</text>
<polyline points="582.1,1899 582.1,1887.3 627.9,1887.3 627.9,1899" fill="none" stroke="#000" stroke-width="2.2" stroke-linejoin="miter" stroke-linecap="butt"/>
<text transform="translate(436.7,1933.2) rotate(-90)" x="0" y="0" font-family='"Liberation Serif", serif' font-size="21.7" font-weight="bold" text-anchor="middle">IL-18 pg/ml</text>
<text x="407" y="1787.4" font-family='"Liberation Sans", sans-serif' font-size="29" font-weight="bold" text-anchor="start" fill="#000">M</text>
</svg></body></html>
